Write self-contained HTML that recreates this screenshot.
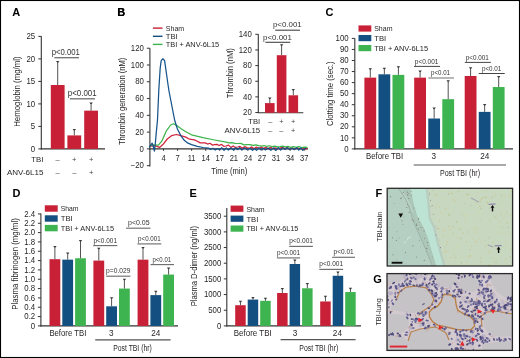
<!DOCTYPE html>
<html><head><meta charset="utf-8"><style>
html,body{margin:0;padding:0;background:#fff;}
svg{display:block;will-change:transform;}
text{font-family:"Liberation Sans",sans-serif;}
</style></head><body>
<svg width="520" height="358" viewBox="0 0 520 358">
<rect x="0" y="0" width="520" height="358" fill="#fff"/>
<text x="12.2" y="15.6" font-size="11" text-anchor="start" fill="#000" font-weight="bold">A</text>
<line x1="41.30" y1="36.20" x2="41.30" y2="149.40" stroke="#333" stroke-width="1.1"/>
<line x1="38.30" y1="36.40" x2="41.30" y2="36.40" stroke="#333" stroke-width="1"/>
<text x="35.2" y="39.05" font-size="8.4" text-anchor="end" fill="#231f20" textLength="8.69" lengthAdjust="spacingAndGlyphs">25</text>
<line x1="38.30" y1="58.90" x2="41.30" y2="58.90" stroke="#333" stroke-width="1"/>
<text x="35.2" y="61.55" font-size="8.4" text-anchor="end" fill="#231f20" textLength="8.69" lengthAdjust="spacingAndGlyphs">20</text>
<line x1="38.30" y1="81.40" x2="41.30" y2="81.40" stroke="#333" stroke-width="1"/>
<text x="35.2" y="84.05" font-size="8.4" text-anchor="end" fill="#231f20" textLength="8.69" lengthAdjust="spacingAndGlyphs">15</text>
<line x1="38.30" y1="103.90" x2="41.30" y2="103.90" stroke="#333" stroke-width="1"/>
<text x="35.2" y="106.55" font-size="8.4" text-anchor="end" fill="#231f20" textLength="8.69" lengthAdjust="spacingAndGlyphs">10</text>
<line x1="38.30" y1="126.40" x2="41.30" y2="126.40" stroke="#333" stroke-width="1"/>
<text x="35.2" y="129.05" font-size="8.4" text-anchor="end" fill="#231f20" textLength="4.34" lengthAdjust="spacingAndGlyphs">5</text>
<line x1="38.30" y1="148.90" x2="41.30" y2="148.90" stroke="#333" stroke-width="1"/>
<text x="35.2" y="151.55" font-size="8.4" text-anchor="end" fill="#231f20" textLength="4.34" lengthAdjust="spacingAndGlyphs">0</text>
<line x1="40.80" y1="148.90" x2="105.00" y2="148.90" stroke="#333" stroke-width="1.1"/>
<rect x="50.80" y="85.00" width="13.80" height="63.90" fill="#c82036"/>
<line x1="57.70" y1="61.60" x2="57.70" y2="85.00" stroke="#4a4a4a" stroke-width="0.95"/>
<path d="M56.00,61.00 L59.40,61.00 L58.30,62.50 L57.10,62.50 Z" fill="#3a3a3a"/>
<rect x="67.40" y="135.40" width="13.80" height="13.50" fill="#c82036"/>
<line x1="74.30" y1="129.55" x2="74.30" y2="135.40" stroke="#4a4a4a" stroke-width="0.95"/>
<path d="M72.60,128.95 L76.00,128.95 L74.90,130.45 L73.70,130.45 Z" fill="#3a3a3a"/>
<rect x="84.20" y="110.65" width="13.80" height="38.25" fill="#c82036"/>
<line x1="91.10" y1="103.00" x2="91.10" y2="110.65" stroke="#4a4a4a" stroke-width="0.95"/>
<path d="M89.40,102.40 L92.80,102.40 L91.70,103.90 L90.50,103.90 Z" fill="#3a3a3a"/>
<text x="20.0" y="91.6" font-size="8.7" text-anchor="middle" fill="#231f20" textLength="70.4" lengthAdjust="spacingAndGlyphs" transform="rotate(-90 20.0 91.6)">Hemoglobin (mg/ml)</text>
<line x1="54.40" y1="57.70" x2="79.00" y2="57.70" stroke="#6f6f6f" stroke-width="1.3"/>
<text x="65.8" y="55.1" font-size="8.2" text-anchor="middle" fill="#333" textLength="28.2" lengthAdjust="spacingAndGlyphs">p&lt;0.001</text>
<line x1="69.80" y1="98.80" x2="95.00" y2="98.80" stroke="#6f6f6f" stroke-width="1.3"/>
<text x="82.2" y="96.2" font-size="8.2" text-anchor="middle" fill="#333" textLength="28.8" lengthAdjust="spacingAndGlyphs">p&lt;0.001</text>
<text x="43.4" y="161.7" font-size="7.8" text-anchor="end" fill="#231f20">TBI</text>
<text x="43.4" y="175.2" font-size="7.8" text-anchor="end" fill="#231f20" textLength="36.5" lengthAdjust="spacingAndGlyphs">ANV-6L15</text>
<text x="57.7" y="161.7" font-size="7.6" text-anchor="middle" fill="#444">–</text>
<text x="74.3" y="161.7" font-size="7.6" text-anchor="middle" fill="#444">+</text>
<text x="91.2" y="161.7" font-size="7.6" text-anchor="middle" fill="#444">+</text>
<text x="57.7" y="175.2" font-size="7.6" text-anchor="middle" fill="#444">–</text>
<text x="74.3" y="175.2" font-size="7.6" text-anchor="middle" fill="#444">–</text>
<text x="91.2" y="175.2" font-size="7.6" text-anchor="middle" fill="#444">+</text>
<text x="117.3" y="15.6" font-size="11" text-anchor="start" fill="#000" font-weight="bold">B</text>
<line x1="149.90" y1="48.20" x2="149.90" y2="166.40" stroke="#333" stroke-width="1.1"/>
<line x1="146.90" y1="48.22" x2="149.90" y2="48.22" stroke="#333" stroke-width="1"/>
<text x="143.9" y="50.87" font-size="8.4" text-anchor="end" fill="#231f20" textLength="13.03" lengthAdjust="spacingAndGlyphs">120</text>
<line x1="146.90" y1="65.00" x2="149.90" y2="65.00" stroke="#333" stroke-width="1"/>
<text x="143.9" y="67.65" font-size="8.4" text-anchor="end" fill="#231f20" textLength="13.03" lengthAdjust="spacingAndGlyphs">100</text>
<line x1="146.90" y1="81.78" x2="149.90" y2="81.78" stroke="#333" stroke-width="1"/>
<text x="143.9" y="84.43" font-size="8.4" text-anchor="end" fill="#231f20" textLength="8.69" lengthAdjust="spacingAndGlyphs">80</text>
<line x1="146.90" y1="98.56" x2="149.90" y2="98.56" stroke="#333" stroke-width="1"/>
<text x="143.9" y="101.21" font-size="8.4" text-anchor="end" fill="#231f20" textLength="8.69" lengthAdjust="spacingAndGlyphs">60</text>
<line x1="146.90" y1="115.34" x2="149.90" y2="115.34" stroke="#333" stroke-width="1"/>
<text x="143.9" y="117.99" font-size="8.4" text-anchor="end" fill="#231f20" textLength="8.69" lengthAdjust="spacingAndGlyphs">40</text>
<line x1="146.90" y1="132.12" x2="149.90" y2="132.12" stroke="#333" stroke-width="1"/>
<text x="143.9" y="134.77" font-size="8.4" text-anchor="end" fill="#231f20" textLength="8.69" lengthAdjust="spacingAndGlyphs">20</text>
<line x1="146.90" y1="148.90" x2="149.90" y2="148.90" stroke="#333" stroke-width="1"/>
<text x="143.9" y="151.55" font-size="8.4" text-anchor="end" fill="#231f20" textLength="4.34" lengthAdjust="spacingAndGlyphs">0</text>
<line x1="146.90" y1="165.68" x2="149.90" y2="165.68" stroke="#333" stroke-width="1"/>
<text x="143.9" y="168.33" font-size="8.4" text-anchor="end" fill="#231f20" textLength="13.25" lengthAdjust="spacingAndGlyphs">−20</text>
<line x1="149.40" y1="148.90" x2="308.00" y2="148.90" stroke="#333" stroke-width="1.1"/>
<line x1="163.50" y1="148.90" x2="163.50" y2="150.80" stroke="#333" stroke-width="1"/>
<text x="163.5" y="160.7" font-size="8.4" text-anchor="middle" fill="#231f20" textLength="4.2" lengthAdjust="spacingAndGlyphs">4</text>
<line x1="177.57" y1="148.90" x2="177.57" y2="150.80" stroke="#333" stroke-width="1"/>
<text x="177.57" y="160.7" font-size="8.4" text-anchor="middle" fill="#231f20" textLength="4.2" lengthAdjust="spacingAndGlyphs">7</text>
<line x1="191.64" y1="148.90" x2="191.64" y2="150.80" stroke="#333" stroke-width="1"/>
<text x="191.64" y="160.7" font-size="8.4" text-anchor="middle" fill="#231f20" textLength="7.85" lengthAdjust="spacingAndGlyphs">11</text>
<line x1="205.71" y1="148.90" x2="205.71" y2="150.80" stroke="#333" stroke-width="1"/>
<text x="205.71" y="160.7" font-size="8.4" text-anchor="middle" fill="#231f20" textLength="8.41" lengthAdjust="spacingAndGlyphs">14</text>
<line x1="219.78" y1="148.90" x2="219.78" y2="150.80" stroke="#333" stroke-width="1"/>
<text x="219.78" y="160.7" font-size="8.4" text-anchor="middle" fill="#231f20" textLength="8.41" lengthAdjust="spacingAndGlyphs">17</text>
<line x1="233.85" y1="148.90" x2="233.85" y2="150.80" stroke="#333" stroke-width="1"/>
<text x="233.85" y="160.7" font-size="8.4" text-anchor="middle" fill="#231f20" textLength="8.41" lengthAdjust="spacingAndGlyphs">21</text>
<line x1="247.92" y1="148.90" x2="247.92" y2="150.80" stroke="#333" stroke-width="1"/>
<text x="247.92" y="160.7" font-size="8.4" text-anchor="middle" fill="#231f20" textLength="8.41" lengthAdjust="spacingAndGlyphs">24</text>
<line x1="261.99" y1="148.90" x2="261.99" y2="150.80" stroke="#333" stroke-width="1"/>
<text x="261.99" y="160.7" font-size="8.4" text-anchor="middle" fill="#231f20" textLength="8.41" lengthAdjust="spacingAndGlyphs">27</text>
<line x1="276.06" y1="148.90" x2="276.06" y2="150.80" stroke="#333" stroke-width="1"/>
<text x="276.06" y="160.7" font-size="8.4" text-anchor="middle" fill="#231f20" textLength="8.41" lengthAdjust="spacingAndGlyphs">31</text>
<line x1="290.13" y1="148.90" x2="290.13" y2="150.80" stroke="#333" stroke-width="1"/>
<text x="290.13" y="160.7" font-size="8.4" text-anchor="middle" fill="#231f20" textLength="8.41" lengthAdjust="spacingAndGlyphs">34</text>
<line x1="304.20" y1="148.90" x2="304.20" y2="150.80" stroke="#333" stroke-width="1"/>
<text x="304.2" y="160.7" font-size="8.4" text-anchor="middle" fill="#231f20" textLength="8.41" lengthAdjust="spacingAndGlyphs">37</text>
<text x="229.3" y="173.6" font-size="8.8" text-anchor="middle" fill="#231f20" textLength="36" lengthAdjust="spacingAndGlyphs">Time (min)</text>
<text x="124.6" y="101.4" font-size="8.7" text-anchor="middle" fill="#231f20" textLength="87.2" lengthAdjust="spacingAndGlyphs" transform="rotate(-90 124.6 101.4)">Thrombin generation (nM)</text>
<line x1="152.90" y1="28.10" x2="162.50" y2="28.10" stroke="#c82036" stroke-width="1.4"/>
<text x="165.8" y="30.6" font-size="7.6" text-anchor="start" fill="#231f20" textLength="18.4" lengthAdjust="spacingAndGlyphs">Sham</text>
<line x1="152.90" y1="36.30" x2="162.50" y2="36.30" stroke="#134f81" stroke-width="1.4"/>
<text x="165.8" y="38.8" font-size="7.6" text-anchor="start" fill="#231f20">TBI</text>
<line x1="152.90" y1="44.40" x2="162.50" y2="44.40" stroke="#3db44f" stroke-width="1.4"/>
<text x="165.8" y="46.9" font-size="7.6" text-anchor="start" fill="#231f20" textLength="53.4" lengthAdjust="spacingAndGlyphs">TBI + ANV-6L15</text>
<path d="M149.50,146.30 L155.00,145.70 L159.50,147.40 L162.90,144.60 L167.30,139.00 L171.80,135.60 L176.30,134.50 L180.00,135.40 L185.80,137.10 L188.65,138.82 L191.50,139.40 L194.40,139.91 L197.30,141.20 L200.15,142.84 L203.00,142.90 L205.32,142.89 L207.64,144.06 L209.96,143.28 L212.28,145.06 L214.60,144.60 L216.92,144.43 L219.24,145.52 L221.56,144.44 L223.88,146.29 L226.20,146.00 L228.50,145.13 L230.80,147.42 L233.10,145.98 L235.40,147.48 L237.70,147.00 L240.02,146.42 L242.35,148.13 L244.68,146.66 L247.00,147.60 L249.36,148.40 L251.71,146.88 L254.07,148.78 L256.43,147.05 L258.79,148.48 L261.14,146.97 L263.50,148.41 L265.86,147.38 L268.21,149.07 L270.57,147.30 L272.93,148.82 L275.29,147.78 L277.64,148.81 L280.00,148.20 L282.45,147.45 L284.91,148.60 L287.36,147.48 L289.82,149.13 L292.27,147.96 L294.73,149.18 L297.18,147.70 L299.64,149.27 L302.09,147.84 L304.55,149.35 L307.00,148.50" stroke="#d0223a" stroke-width="1.25" fill="none" stroke-linejoin="round" stroke-linecap="round"/>
<path d="M149.50,146.30 L152.80,144.80 L156.00,145.00 L158.40,145.10 L161.80,141.20 L166.20,131.20 L170.70,125.00 L173.50,123.70 L176.80,125.60 L180.80,128.40 L185.00,131.20 L191.50,134.80 L203.00,137.70 L214.60,140.00 L226.20,142.10 L229.07,142.94 L231.95,142.61 L234.82,143.36 L237.70,143.50 L240.80,143.40 L243.90,144.82 L247.00,144.60 L249.95,144.56 L252.90,145.47 L255.85,144.92 L258.80,145.60 L261.45,146.04 L264.10,145.52 L266.75,146.29 L269.40,145.76 L272.05,146.66 L274.70,146.04 L277.35,146.81 L280.00,146.60 L282.70,146.18 L285.40,146.95 L288.10,146.42 L290.80,147.41 L293.50,146.69 L296.20,147.35 L298.90,146.64 L301.60,147.52 L304.30,147.06 L307.00,147.40" stroke="#3cb44a" stroke-width="1.25" fill="none" stroke-linejoin="round" stroke-linecap="round"/>
<path d="M149.50,147.00 L150.80,145.00 L152.20,143.20 L153.30,146.50 L154.40,151.20 L155.20,145.00 L156.20,133.40 L157.50,120.00 L158.80,90.00 L160.20,68.00 L161.20,60.60 L162.90,58.80 L164.60,60.60 L166.50,74.00 L168.80,90.00 L171.50,104.00 L174.60,120.00 L177.40,129.00 L180.80,135.60 L184.50,140.60 L188.00,143.20 L191.50,144.60 L197.30,146.30 L203.00,147.50 L208.80,148.10 L210.50,149.56 L212.84,148.29 L215.25,149.99 L217.11,148.69 L219.75,149.59 L221.79,147.60 L224.06,150.22 L226.33,148.00 L228.28,150.00 L230.95,148.12 L233.49,150.04 L235.36,147.87 L237.75,149.63 L239.58,147.75 L241.85,150.09 L244.53,147.91 L247.25,149.73 L249.85,148.21 L252.59,150.27 L254.48,148.55 L256.50,150.36 L258.74,148.01 L260.84,149.86 L263.02,148.31 L265.41,149.94 L268.11,147.95 L270.84,150.24 L273.63,147.96 L275.60,150.25 L278.36,147.70 L280.73,150.09 L282.74,147.79 L285.12,149.61 L286.98,147.76 L289.77,149.40 L292.37,148.25 L294.32,149.62 L296.89,147.74 L298.73,149.98 L300.58,147.91 L302.71,150.27 L305.49,148.14" stroke="#15538a" stroke-width="1.25" fill="none" stroke-linejoin="round" stroke-linecap="round"/>
<text x="117.3" y="15.6" font-size="11" text-anchor="start" fill="#000" font-weight="bold">B</text>
<line x1="258.30" y1="34.20" x2="258.30" y2="112.90" stroke="#333" stroke-width="1.1"/>
<line x1="255.30" y1="34.30" x2="258.30" y2="34.30" stroke="#333" stroke-width="1"/>
<text x="251.8" y="36.95" font-size="8.4" text-anchor="end" fill="#231f20" textLength="13.03" lengthAdjust="spacingAndGlyphs">140</text>
<line x1="255.30" y1="49.95" x2="258.30" y2="49.95" stroke="#333" stroke-width="1"/>
<text x="251.8" y="52.6" font-size="8.4" text-anchor="end" fill="#231f20" textLength="13.03" lengthAdjust="spacingAndGlyphs">120</text>
<line x1="255.30" y1="65.60" x2="258.30" y2="65.60" stroke="#333" stroke-width="1"/>
<text x="251.8" y="68.25" font-size="8.4" text-anchor="end" fill="#231f20" textLength="8.69" lengthAdjust="spacingAndGlyphs">80</text>
<line x1="255.30" y1="81.25" x2="258.30" y2="81.25" stroke="#333" stroke-width="1"/>
<text x="251.8" y="83.9" font-size="8.4" text-anchor="end" fill="#231f20" textLength="8.69" lengthAdjust="spacingAndGlyphs">60</text>
<line x1="255.30" y1="96.90" x2="258.30" y2="96.90" stroke="#333" stroke-width="1"/>
<text x="251.8" y="99.55" font-size="8.4" text-anchor="end" fill="#231f20" textLength="8.69" lengthAdjust="spacingAndGlyphs">40</text>
<line x1="255.30" y1="112.55" x2="258.30" y2="112.55" stroke="#333" stroke-width="1"/>
<text x="251.8" y="115.2" font-size="8.4" text-anchor="end" fill="#231f20" textLength="8.69" lengthAdjust="spacingAndGlyphs">20</text>
<line x1="257.80" y1="112.80" x2="303.30" y2="112.80" stroke="#333" stroke-width="1.1"/>
<rect x="265.00" y="103.10" width="9.60" height="9.70" fill="#c82036"/>
<line x1="269.80" y1="98.20" x2="269.80" y2="103.10" stroke="#4a4a4a" stroke-width="0.95"/>
<path d="M268.10,97.60 L271.50,97.60 L270.40,99.10 L269.20,99.10 Z" fill="#3a3a3a"/>
<rect x="276.80" y="55.20" width="9.60" height="57.60" fill="#c82036"/>
<line x1="281.60" y1="44.90" x2="281.60" y2="55.20" stroke="#4a4a4a" stroke-width="0.95"/>
<path d="M279.90,44.30 L283.30,44.30 L282.20,45.80 L281.00,45.80 Z" fill="#3a3a3a"/>
<rect x="288.50" y="95.30" width="9.60" height="17.50" fill="#c82036"/>
<line x1="293.30" y1="89.70" x2="293.30" y2="95.30" stroke="#4a4a4a" stroke-width="0.95"/>
<path d="M291.60,89.10 L295.00,89.10 L293.90,90.60 L292.70,90.60 Z" fill="#3a3a3a"/>
<line x1="265.40" y1="42.30" x2="290.20" y2="42.30" stroke="#444" stroke-width="1.1"/>
<text x="277.5" y="39.8" font-size="8.0" text-anchor="middle" fill="#333" textLength="28.8" lengthAdjust="spacingAndGlyphs">p&lt;0.001</text>
<line x1="275.20" y1="30.20" x2="300.00" y2="30.20" stroke="#444" stroke-width="1.1"/>
<text x="287.3" y="27.3" font-size="8.0" text-anchor="middle" fill="#333" textLength="28.8" lengthAdjust="spacingAndGlyphs">p&lt;0.001</text>
<text x="233.0" y="73.2" font-size="8.2" text-anchor="middle" fill="#231f20" textLength="50" lengthAdjust="spacingAndGlyphs" transform="rotate(-90 233.0 73.2)">Thrombin (nM)</text>
<text x="260.2" y="124.1" font-size="7.6" text-anchor="end" fill="#231f20">TBI</text>
<text x="260.2" y="132.8" font-size="7.6" text-anchor="end" fill="#231f20" textLength="35.7" lengthAdjust="spacingAndGlyphs">ANV-6L15</text>
<text x="270.2" y="124.1" font-size="7.4" text-anchor="middle" fill="#444">–</text>
<text x="281.4" y="124.1" font-size="7.4" text-anchor="middle" fill="#444">+</text>
<text x="293.2" y="124.1" font-size="7.4" text-anchor="middle" fill="#444">+</text>
<text x="270.2" y="132.8" font-size="7.4" text-anchor="middle" fill="#444">–</text>
<text x="281.4" y="132.8" font-size="7.4" text-anchor="middle" fill="#444">–</text>
<text x="293.2" y="132.8" font-size="7.4" text-anchor="middle" fill="#444">+</text>
<text x="325.4" y="15.6" font-size="11" text-anchor="start" fill="#000" font-weight="bold">C</text>
<line x1="354.80" y1="38.20" x2="354.80" y2="149.40" stroke="#333" stroke-width="1.1"/>
<line x1="351.80" y1="38.40" x2="354.80" y2="38.40" stroke="#333" stroke-width="1"/>
<text x="348.6" y="41.05" font-size="8.4" text-anchor="end" fill="#231f20" textLength="13.03" lengthAdjust="spacingAndGlyphs">100</text>
<line x1="351.80" y1="49.45" x2="354.80" y2="49.45" stroke="#333" stroke-width="1"/>
<text x="348.6" y="52.1" font-size="8.4" text-anchor="end" fill="#231f20" textLength="8.69" lengthAdjust="spacingAndGlyphs">90</text>
<line x1="351.80" y1="60.50" x2="354.80" y2="60.50" stroke="#333" stroke-width="1"/>
<text x="348.6" y="63.15" font-size="8.4" text-anchor="end" fill="#231f20" textLength="8.69" lengthAdjust="spacingAndGlyphs">80</text>
<line x1="351.80" y1="71.55" x2="354.80" y2="71.55" stroke="#333" stroke-width="1"/>
<text x="348.6" y="74.2" font-size="8.4" text-anchor="end" fill="#231f20" textLength="8.69" lengthAdjust="spacingAndGlyphs">70</text>
<line x1="351.80" y1="82.60" x2="354.80" y2="82.60" stroke="#333" stroke-width="1"/>
<text x="348.6" y="85.25" font-size="8.4" text-anchor="end" fill="#231f20" textLength="8.69" lengthAdjust="spacingAndGlyphs">60</text>
<line x1="351.80" y1="93.65" x2="354.80" y2="93.65" stroke="#333" stroke-width="1"/>
<text x="348.6" y="96.3" font-size="8.4" text-anchor="end" fill="#231f20" textLength="8.69" lengthAdjust="spacingAndGlyphs">50</text>
<line x1="351.80" y1="104.70" x2="354.80" y2="104.70" stroke="#333" stroke-width="1"/>
<text x="348.6" y="107.35" font-size="8.4" text-anchor="end" fill="#231f20" textLength="8.69" lengthAdjust="spacingAndGlyphs">40</text>
<line x1="351.80" y1="115.75" x2="354.80" y2="115.75" stroke="#333" stroke-width="1"/>
<text x="348.6" y="118.4" font-size="8.4" text-anchor="end" fill="#231f20" textLength="8.69" lengthAdjust="spacingAndGlyphs">30</text>
<line x1="351.80" y1="126.80" x2="354.80" y2="126.80" stroke="#333" stroke-width="1"/>
<text x="348.6" y="129.45" font-size="8.4" text-anchor="end" fill="#231f20" textLength="8.69" lengthAdjust="spacingAndGlyphs">20</text>
<line x1="351.80" y1="137.85" x2="354.80" y2="137.85" stroke="#333" stroke-width="1"/>
<text x="348.6" y="140.5" font-size="8.4" text-anchor="end" fill="#231f20" textLength="8.69" lengthAdjust="spacingAndGlyphs">10</text>
<line x1="351.80" y1="148.90" x2="354.80" y2="148.90" stroke="#333" stroke-width="1"/>
<text x="348.6" y="151.55" font-size="8.4" text-anchor="end" fill="#231f20" textLength="4.34" lengthAdjust="spacingAndGlyphs">0</text>
<line x1="354.30" y1="148.90" x2="513.00" y2="148.90" stroke="#333" stroke-width="1.1"/>
<rect x="358.50" y="25.40" width="12.80" height="6.20" fill="#c82036"/>
<text x="374.2" y="31.2" font-size="7.7" text-anchor="start" fill="#231f20" textLength="18.3" lengthAdjust="spacingAndGlyphs">Sham</text>
<rect x="358.50" y="35.00" width="12.80" height="6.20" fill="#134f81"/>
<text x="374.2" y="40.8" font-size="7.7" text-anchor="start" fill="#231f20">TBI</text>
<rect x="358.50" y="45.00" width="12.80" height="6.20" fill="#3db44f"/>
<text x="374.2" y="50.8" font-size="7.7" text-anchor="start" fill="#231f20" textLength="53.9" lengthAdjust="spacingAndGlyphs">TBI + ANV-6L15</text>
<rect x="364.40" y="77.63" width="11.80" height="71.27" fill="#c82036"/>
<line x1="370.30" y1="68.79" x2="370.30" y2="77.63" stroke="#4a4a4a" stroke-width="0.95"/>
<path d="M368.60,68.19 L372.00,68.19 L370.90,69.69 L369.70,69.69 Z" fill="#3a3a3a"/>
<rect x="378.45" y="74.31" width="11.80" height="74.59" fill="#134f81"/>
<line x1="384.35" y1="68.24" x2="384.35" y2="74.31" stroke="#4a4a4a" stroke-width="0.95"/>
<path d="M382.65,67.64 L386.05,67.64 L384.95,69.14 L383.75,69.14 Z" fill="#3a3a3a"/>
<rect x="392.50" y="74.87" width="11.80" height="74.03" fill="#3db44f"/>
<line x1="398.40" y1="66.80" x2="398.40" y2="74.87" stroke="#4a4a4a" stroke-width="0.95"/>
<path d="M396.70,66.20 L400.10,66.20 L399.00,67.70 L397.80,67.70 Z" fill="#3a3a3a"/>
<rect x="414.20" y="77.63" width="11.80" height="71.27" fill="#c82036"/>
<line x1="420.10" y1="71.00" x2="420.10" y2="77.63" stroke="#4a4a4a" stroke-width="0.95"/>
<path d="M418.40,70.40 L421.80,70.40 L420.70,71.90 L419.50,71.90 Z" fill="#3a3a3a"/>
<rect x="428.25" y="118.51" width="11.80" height="30.39" fill="#134f81"/>
<line x1="434.15" y1="108.02" x2="434.15" y2="118.51" stroke="#4a4a4a" stroke-width="0.95"/>
<path d="M432.45,107.42 L435.85,107.42 L434.75,108.92 L433.55,108.92 Z" fill="#3a3a3a"/>
<rect x="442.30" y="99.18" width="11.80" height="49.72" fill="#3db44f"/>
<line x1="448.20" y1="80.94" x2="448.20" y2="99.18" stroke="#4a4a4a" stroke-width="0.95"/>
<path d="M446.50,80.34 L449.90,80.34 L448.80,81.84 L447.60,81.84 Z" fill="#3a3a3a"/>
<rect x="464.70" y="75.97" width="11.80" height="72.93" fill="#c82036"/>
<line x1="470.60" y1="67.90" x2="470.60" y2="75.97" stroke="#4a4a4a" stroke-width="0.95"/>
<path d="M468.90,67.30 L472.30,67.30 L471.20,68.80 L470.00,68.80 Z" fill="#3a3a3a"/>
<rect x="478.75" y="111.88" width="11.80" height="37.02" fill="#134f81"/>
<line x1="484.65" y1="104.70" x2="484.65" y2="111.88" stroke="#4a4a4a" stroke-width="0.95"/>
<path d="M482.95,104.10 L486.35,104.10 L485.25,105.60 L484.05,105.60 Z" fill="#3a3a3a"/>
<rect x="492.80" y="87.02" width="11.80" height="61.88" fill="#3db44f"/>
<line x1="498.70" y1="76.52" x2="498.70" y2="87.02" stroke="#4a4a4a" stroke-width="0.95"/>
<path d="M497.00,75.92 L500.40,75.92 L499.30,77.42 L498.10,77.42 Z" fill="#3a3a3a"/>
<text x="384.6" y="159.3" font-size="8.2" text-anchor="middle" fill="#231f20" textLength="37.2" lengthAdjust="spacingAndGlyphs">Before TBI</text>
<text x="433.8" y="159.3" font-size="8.2" text-anchor="middle" fill="#231f20">3</text>
<text x="484.7" y="159.3" font-size="8.2" text-anchor="middle" fill="#231f20">24</text>
<line x1="413.70" y1="165.00" x2="506.00" y2="165.00" stroke="#555" stroke-width="1.2"/>
<text x="460" y="176.2" font-size="8.5" text-anchor="middle" fill="#231f20" textLength="40.2" lengthAdjust="spacingAndGlyphs">Post TBI (hr)</text>
<text x="332.6" y="93.7" font-size="8.7" text-anchor="middle" fill="#231f20" textLength="64.6" lengthAdjust="spacingAndGlyphs" transform="rotate(-90 332.6 93.7)">Clotting time (sec.)</text>
<line x1="414.00" y1="66.40" x2="440.00" y2="66.40" stroke="#444" stroke-width="1.0"/>
<text x="426.6" y="63.7" font-size="6.8" text-anchor="middle" fill="#333" textLength="23.6" lengthAdjust="spacingAndGlyphs">p&lt;0.001</text>
<line x1="428.30" y1="78.00" x2="454.00" y2="78.00" stroke="#888" stroke-width="1.2"/>
<text x="440.5" y="75.4" font-size="6.8" text-anchor="middle" fill="#333" textLength="18.9" lengthAdjust="spacingAndGlyphs">p&lt;0.01</text>
<line x1="464.80" y1="62.40" x2="490.80" y2="62.40" stroke="#444" stroke-width="1.0"/>
<text x="477.3" y="59.7" font-size="6.8" text-anchor="middle" fill="#333" textLength="23" lengthAdjust="spacingAndGlyphs">p&lt;0.001</text>
<line x1="478.80" y1="73.50" x2="504.70" y2="73.50" stroke="#444" stroke-width="1.0"/>
<text x="491.6" y="71.1" font-size="6.8" text-anchor="middle" fill="#333" textLength="19.4" lengthAdjust="spacingAndGlyphs">p&lt;0.01</text>
<text x="12.4" y="196.5" font-size="11" text-anchor="start" fill="#000" font-weight="bold">D</text>
<line x1="40.90" y1="213.40" x2="40.90" y2="326.40" stroke="#333" stroke-width="1.1"/>
<line x1="37.90" y1="213.94" x2="40.90" y2="213.94" stroke="#333" stroke-width="1"/>
<text x="35.2" y="216.59" font-size="8.4" text-anchor="end" fill="#231f20" textLength="10.86" lengthAdjust="spacingAndGlyphs">2.4</text>
<line x1="37.90" y1="223.27" x2="40.90" y2="223.27" stroke="#333" stroke-width="1"/>
<text x="35.2" y="225.92" font-size="8.4" text-anchor="end" fill="#231f20" textLength="10.86" lengthAdjust="spacingAndGlyphs">2.2</text>
<line x1="37.90" y1="232.60" x2="40.90" y2="232.60" stroke="#333" stroke-width="1"/>
<text x="35.2" y="235.25" font-size="8.4" text-anchor="end" fill="#231f20" textLength="10.86" lengthAdjust="spacingAndGlyphs">2.0</text>
<line x1="37.90" y1="241.93" x2="40.90" y2="241.93" stroke="#333" stroke-width="1"/>
<text x="35.2" y="244.58" font-size="8.4" text-anchor="end" fill="#231f20" textLength="10.86" lengthAdjust="spacingAndGlyphs">1.8</text>
<line x1="37.90" y1="251.26" x2="40.90" y2="251.26" stroke="#333" stroke-width="1"/>
<text x="35.2" y="253.91" font-size="8.4" text-anchor="end" fill="#231f20" textLength="10.86" lengthAdjust="spacingAndGlyphs">1.6</text>
<line x1="37.90" y1="260.59" x2="40.90" y2="260.59" stroke="#333" stroke-width="1"/>
<text x="35.2" y="263.24" font-size="8.4" text-anchor="end" fill="#231f20" textLength="10.86" lengthAdjust="spacingAndGlyphs">1.4</text>
<line x1="37.90" y1="269.92" x2="40.90" y2="269.92" stroke="#333" stroke-width="1"/>
<text x="35.2" y="272.57" font-size="8.4" text-anchor="end" fill="#231f20" textLength="10.86" lengthAdjust="spacingAndGlyphs">1.2</text>
<line x1="37.90" y1="279.25" x2="40.90" y2="279.25" stroke="#333" stroke-width="1"/>
<text x="35.2" y="281.9" font-size="8.4" text-anchor="end" fill="#231f20" textLength="10.86" lengthAdjust="spacingAndGlyphs">1.0</text>
<line x1="37.90" y1="288.58" x2="40.90" y2="288.58" stroke="#333" stroke-width="1"/>
<text x="35.2" y="291.23" font-size="8.4" text-anchor="end" fill="#231f20" textLength="10.86" lengthAdjust="spacingAndGlyphs">0.8</text>
<line x1="37.90" y1="297.91" x2="40.90" y2="297.91" stroke="#333" stroke-width="1"/>
<text x="35.2" y="300.56" font-size="8.4" text-anchor="end" fill="#231f20" textLength="10.86" lengthAdjust="spacingAndGlyphs">0.6</text>
<line x1="37.90" y1="307.24" x2="40.90" y2="307.24" stroke="#333" stroke-width="1"/>
<text x="35.2" y="309.89" font-size="8.4" text-anchor="end" fill="#231f20" textLength="10.86" lengthAdjust="spacingAndGlyphs">0.4</text>
<line x1="37.90" y1="316.57" x2="40.90" y2="316.57" stroke="#333" stroke-width="1"/>
<text x="35.2" y="319.22" font-size="8.4" text-anchor="end" fill="#231f20" textLength="10.86" lengthAdjust="spacingAndGlyphs">0.2</text>
<line x1="37.90" y1="325.90" x2="40.90" y2="325.90" stroke="#333" stroke-width="1"/>
<text x="35.2" y="328.55" font-size="8.4" text-anchor="end" fill="#231f20" textLength="4.34" lengthAdjust="spacingAndGlyphs">0</text>
<line x1="40.40" y1="325.90" x2="178.00" y2="325.90" stroke="#333" stroke-width="1.1"/>
<rect x="44.80" y="205.30" width="12.90" height="6.40" fill="#c82036"/>
<text x="60.8" y="211.2" font-size="7.7" text-anchor="start" fill="#231f20" textLength="17.7" lengthAdjust="spacingAndGlyphs">Sham</text>
<rect x="44.80" y="215.30" width="12.90" height="6.40" fill="#134f81"/>
<text x="60.8" y="221.2" font-size="7.7" text-anchor="start" fill="#231f20">TBI</text>
<rect x="44.80" y="224.90" width="12.90" height="6.40" fill="#3db44f"/>
<text x="60.8" y="230.8" font-size="7.7" text-anchor="start" fill="#231f20" textLength="53.2" lengthAdjust="spacingAndGlyphs">TBI + ANV-6L15</text>
<rect x="49.50" y="259.19" width="10.80" height="66.71" fill="#c82036"/>
<line x1="54.90" y1="246.59" x2="54.90" y2="259.19" stroke="#4a4a4a" stroke-width="0.95"/>
<path d="M53.20,245.99 L56.60,245.99 L55.50,247.49 L54.30,247.49 Z" fill="#3a3a3a"/>
<rect x="62.30" y="259.66" width="10.80" height="66.24" fill="#134f81"/>
<line x1="67.70" y1="253.13" x2="67.70" y2="259.66" stroke="#4a4a4a" stroke-width="0.95"/>
<path d="M66.00,252.53 L69.40,252.53 L68.30,254.03 L67.10,254.03 Z" fill="#3a3a3a"/>
<rect x="75.10" y="258.26" width="10.80" height="67.64" fill="#3db44f"/>
<line x1="80.50" y1="240.53" x2="80.50" y2="258.26" stroke="#4a4a4a" stroke-width="0.95"/>
<path d="M78.80,239.93 L82.20,239.93 L81.10,241.43 L79.90,241.43 Z" fill="#3a3a3a"/>
<rect x="93.40" y="260.59" width="10.80" height="65.31" fill="#c82036"/>
<line x1="98.80" y1="248.46" x2="98.80" y2="260.59" stroke="#4a4a4a" stroke-width="0.95"/>
<path d="M97.10,247.86 L100.50,247.86 L99.40,249.36 L98.20,249.36 Z" fill="#3a3a3a"/>
<rect x="106.20" y="306.31" width="10.80" height="19.59" fill="#134f81"/>
<line x1="111.60" y1="297.91" x2="111.60" y2="306.31" stroke="#4a4a4a" stroke-width="0.95"/>
<path d="M109.90,297.31 L113.30,297.31 L112.20,298.81 L111.00,298.81 Z" fill="#3a3a3a"/>
<rect x="119.00" y="288.58" width="10.80" height="37.32" fill="#3db44f"/>
<line x1="124.40" y1="279.25" x2="124.40" y2="288.58" stroke="#4a4a4a" stroke-width="0.95"/>
<path d="M122.70,278.65 L126.10,278.65 L125.00,280.15 L123.80,280.15 Z" fill="#3a3a3a"/>
<rect x="137.60" y="259.66" width="10.80" height="66.24" fill="#c82036"/>
<line x1="143.00" y1="247.53" x2="143.00" y2="259.66" stroke="#4a4a4a" stroke-width="0.95"/>
<path d="M141.30,246.93 L144.70,246.93 L143.60,248.43 L142.40,248.43 Z" fill="#3a3a3a"/>
<rect x="150.40" y="295.11" width="10.80" height="30.79" fill="#134f81"/>
<line x1="155.80" y1="291.38" x2="155.80" y2="295.11" stroke="#4a4a4a" stroke-width="0.95"/>
<path d="M154.10,290.78 L157.50,290.78 L156.40,292.28 L155.20,292.28 Z" fill="#3a3a3a"/>
<rect x="163.20" y="274.58" width="10.80" height="51.31" fill="#3db44f"/>
<line x1="168.60" y1="268.05" x2="168.60" y2="274.58" stroke="#4a4a4a" stroke-width="0.95"/>
<path d="M166.90,267.45 L170.30,267.45 L169.20,268.95 L168.00,268.95 Z" fill="#3a3a3a"/>
<text x="67.85" y="336.2" font-size="8.2" text-anchor="middle" fill="#231f20" textLength="36.9" lengthAdjust="spacingAndGlyphs">Before TBI</text>
<text x="111.4" y="336.2" font-size="8.2" text-anchor="middle" fill="#231f20">3</text>
<text x="155.7" y="336.2" font-size="8.2" text-anchor="middle" fill="#231f20">24</text>
<line x1="95.20" y1="339.90" x2="170.60" y2="339.90" stroke="#555" stroke-width="1.2"/>
<text x="132.5" y="351.2" font-size="8.5" text-anchor="middle" fill="#231f20" textLength="38.5" lengthAdjust="spacingAndGlyphs">Post TBI (hr)</text>
<text x="17.6" y="264" font-size="8.7" text-anchor="middle" fill="#231f20" textLength="91.5" lengthAdjust="spacingAndGlyphs" transform="rotate(-90 17.6 264)">Plasma fibrinogen (mg/ml)</text>
<line x1="126.10" y1="228.20" x2="150.50" y2="228.20" stroke="#6f6f6f" stroke-width="1.15"/>
<text x="138.8" y="225.2" font-size="6.6" text-anchor="middle" fill="#333" textLength="21.6" lengthAdjust="spacingAndGlyphs">p&lt;0.05</text>
<line x1="93.20" y1="245.60" x2="117.30" y2="245.60" stroke="#6f6f6f" stroke-width="1.15"/>
<text x="105.25" y="242.6" font-size="6.6" text-anchor="middle" fill="#333" textLength="23.5" lengthAdjust="spacingAndGlyphs">p&lt;0.001</text>
<line x1="106.10" y1="276.20" x2="130.40" y2="276.20" stroke="#6f6f6f" stroke-width="1.15"/>
<text x="118.25" y="273.2" font-size="6.6" text-anchor="middle" fill="#333" textLength="24.3" lengthAdjust="spacingAndGlyphs">p=0.029</text>
<line x1="137.40" y1="243.90" x2="161.30" y2="243.90" stroke="#6f6f6f" stroke-width="1.15"/>
<text x="149.35" y="240.9" font-size="6.6" text-anchor="middle" fill="#333" textLength="22.5" lengthAdjust="spacingAndGlyphs">p&lt;0.001</text>
<line x1="150.50" y1="264.60" x2="174.00" y2="264.60" stroke="#6f6f6f" stroke-width="1.15"/>
<text x="161.8" y="261.6" font-size="6.6" text-anchor="middle" fill="#333" textLength="18.6" lengthAdjust="spacingAndGlyphs">p&lt;0.01</text>
<text x="189.4" y="196.5" font-size="11" text-anchor="start" fill="#000" font-weight="bold">E</text>
<line x1="226.80" y1="208.00" x2="226.80" y2="326.40" stroke="#333" stroke-width="1.1"/>
<line x1="223.80" y1="216.21" x2="226.80" y2="216.21" stroke="#333" stroke-width="1"/>
<text x="221.3" y="218.86" font-size="8.4" text-anchor="end" fill="#231f20" textLength="17.38" lengthAdjust="spacingAndGlyphs">3500</text>
<line x1="223.80" y1="231.88" x2="226.80" y2="231.88" stroke="#333" stroke-width="1"/>
<text x="221.3" y="234.53" font-size="8.4" text-anchor="end" fill="#231f20" textLength="17.38" lengthAdjust="spacingAndGlyphs">3000</text>
<line x1="223.80" y1="247.55" x2="226.80" y2="247.55" stroke="#333" stroke-width="1"/>
<text x="221.3" y="250.2" font-size="8.4" text-anchor="end" fill="#231f20" textLength="17.38" lengthAdjust="spacingAndGlyphs">2500</text>
<line x1="223.80" y1="263.22" x2="226.80" y2="263.22" stroke="#333" stroke-width="1"/>
<text x="221.3" y="265.87" font-size="8.4" text-anchor="end" fill="#231f20" textLength="17.38" lengthAdjust="spacingAndGlyphs">2000</text>
<line x1="223.80" y1="278.89" x2="226.80" y2="278.89" stroke="#333" stroke-width="1"/>
<text x="221.3" y="281.54" font-size="8.4" text-anchor="end" fill="#231f20" textLength="17.38" lengthAdjust="spacingAndGlyphs">1500</text>
<line x1="223.80" y1="294.56" x2="226.80" y2="294.56" stroke="#333" stroke-width="1"/>
<text x="221.3" y="297.21" font-size="8.4" text-anchor="end" fill="#231f20" textLength="17.38" lengthAdjust="spacingAndGlyphs">1000</text>
<line x1="223.80" y1="310.23" x2="226.80" y2="310.23" stroke="#333" stroke-width="1"/>
<text x="221.3" y="312.88" font-size="8.4" text-anchor="end" fill="#231f20" textLength="13.03" lengthAdjust="spacingAndGlyphs">500</text>
<line x1="223.80" y1="325.90" x2="226.80" y2="325.90" stroke="#333" stroke-width="1"/>
<text x="221.3" y="328.55" font-size="8.4" text-anchor="end" fill="#231f20" textLength="4.34" lengthAdjust="spacingAndGlyphs">0</text>
<line x1="226.30" y1="325.90" x2="361.00" y2="325.90" stroke="#333" stroke-width="1.1"/>
<rect x="230.60" y="205.60" width="12.80" height="6.20" fill="#c82036"/>
<text x="246.4" y="211.5" font-size="7.7" text-anchor="start" fill="#231f20" textLength="18.2" lengthAdjust="spacingAndGlyphs">Sham</text>
<rect x="230.60" y="215.60" width="12.80" height="6.20" fill="#134f81"/>
<text x="246.4" y="221.5" font-size="7.7" text-anchor="start" fill="#231f20">TBI</text>
<rect x="230.60" y="225.50" width="12.80" height="6.20" fill="#3db44f"/>
<text x="246.4" y="231.4" font-size="7.7" text-anchor="start" fill="#231f20" textLength="52" lengthAdjust="spacingAndGlyphs">TBI + ANV-6L15</text>
<rect x="235.20" y="305.22" width="10.50" height="20.68" fill="#c82036"/>
<line x1="240.45" y1="301.45" x2="240.45" y2="305.22" stroke="#4a4a4a" stroke-width="0.95"/>
<path d="M238.75,300.85 L242.15,300.85 L241.05,302.35 L239.85,302.35 Z" fill="#3a3a3a"/>
<rect x="247.70" y="299.57" width="10.50" height="26.33" fill="#134f81"/>
<line x1="252.95" y1="297.69" x2="252.95" y2="299.57" stroke="#4a4a4a" stroke-width="0.95"/>
<path d="M251.25,297.09 L254.65,297.09 L253.55,298.59 L252.35,298.59 Z" fill="#3a3a3a"/>
<rect x="260.20" y="300.83" width="10.50" height="25.07" fill="#3db44f"/>
<line x1="265.45" y1="298.32" x2="265.45" y2="300.83" stroke="#4a4a4a" stroke-width="0.95"/>
<path d="M263.75,297.72 L267.15,297.72 L266.05,299.22 L264.85,299.22 Z" fill="#3a3a3a"/>
<rect x="277.10" y="292.99" width="10.50" height="32.91" fill="#c82036"/>
<line x1="282.35" y1="288.61" x2="282.35" y2="292.99" stroke="#4a4a4a" stroke-width="0.95"/>
<path d="M280.65,288.01 L284.05,288.01 L282.95,289.51 L281.75,289.51 Z" fill="#3a3a3a"/>
<rect x="289.60" y="264.00" width="10.50" height="61.90" fill="#134f81"/>
<line x1="294.85" y1="260.09" x2="294.85" y2="264.00" stroke="#4a4a4a" stroke-width="0.95"/>
<path d="M293.15,259.49 L296.55,259.49 L295.45,260.99 L294.25,260.99 Z" fill="#3a3a3a"/>
<rect x="302.10" y="288.29" width="10.50" height="37.61" fill="#3db44f"/>
<line x1="307.35" y1="283.59" x2="307.35" y2="288.29" stroke="#4a4a4a" stroke-width="0.95"/>
<path d="M305.65,282.99 L309.05,282.99 L307.95,284.49 L306.75,284.49 Z" fill="#3a3a3a"/>
<rect x="320.20" y="301.45" width="10.50" height="24.45" fill="#c82036"/>
<line x1="325.45" y1="296.44" x2="325.45" y2="301.45" stroke="#4a4a4a" stroke-width="0.95"/>
<path d="M323.75,295.84 L327.15,295.84 L326.05,297.34 L324.85,297.34 Z" fill="#3a3a3a"/>
<rect x="332.70" y="275.76" width="10.50" height="50.14" fill="#134f81"/>
<line x1="337.95" y1="272.00" x2="337.95" y2="275.76" stroke="#4a4a4a" stroke-width="0.95"/>
<path d="M336.25,271.40 L339.65,271.40 L338.55,272.90 L337.35,272.90 Z" fill="#3a3a3a"/>
<rect x="345.20" y="292.05" width="10.50" height="33.85" fill="#3db44f"/>
<line x1="350.45" y1="288.29" x2="350.45" y2="292.05" stroke="#4a4a4a" stroke-width="0.95"/>
<path d="M348.75,287.69 L352.15,287.69 L351.05,289.19 L349.85,289.19 Z" fill="#3a3a3a"/>
<text x="252.8" y="336.0" font-size="8.2" text-anchor="middle" fill="#231f20" textLength="38" lengthAdjust="spacingAndGlyphs">Before TBI</text>
<text x="295.0" y="336.0" font-size="8.2" text-anchor="middle" fill="#231f20">3</text>
<text x="337.4" y="336.0" font-size="8.2" text-anchor="middle" fill="#231f20">24</text>
<line x1="280.60" y1="339.60" x2="355.60" y2="339.60" stroke="#555" stroke-width="1.2"/>
<text x="318.8" y="351.2" font-size="8.5" text-anchor="middle" fill="#231f20" textLength="39" lengthAdjust="spacingAndGlyphs">Post TBI (hr)</text>
<text x="197.0" y="266.2" font-size="8.7" text-anchor="middle" fill="#231f20" textLength="80.3" lengthAdjust="spacingAndGlyphs" transform="rotate(-90 197.0 266.2)">Plasma D-dimer (ng/ml)</text>
<line x1="276.90" y1="257.90" x2="300.10" y2="257.90" stroke="#6f6f6f" stroke-width="1.15"/>
<text x="288.5" y="254.9" font-size="6.6" text-anchor="middle" fill="#333" textLength="23.2" lengthAdjust="spacingAndGlyphs">p&lt;0.001</text>
<line x1="289.20" y1="246.40" x2="312.90" y2="246.40" stroke="#6f6f6f" stroke-width="1.15"/>
<text x="301.05" y="243.4" font-size="6.6" text-anchor="middle" fill="#333" textLength="23.7" lengthAdjust="spacingAndGlyphs">p&lt;0.001</text>
<line x1="319.30" y1="269.40" x2="343.10" y2="269.40" stroke="#6f6f6f" stroke-width="1.15"/>
<text x="331.2" y="266.4" font-size="6.6" text-anchor="middle" fill="#333" textLength="23.8" lengthAdjust="spacingAndGlyphs">p&lt;0.001</text>
<line x1="332.10" y1="257.30" x2="355.00" y2="257.30" stroke="#6f6f6f" stroke-width="1.15"/>
<text x="343.6" y="254.3" font-size="6.6" text-anchor="middle" fill="#333" textLength="20.1" lengthAdjust="spacingAndGlyphs">p&lt;0.01</text>
<text x="375.4" y="196.5" font-size="11" font-weight="bold" fill="#000">F</text>
<text x="382.2" y="226.7" font-size="7.4" text-anchor="middle" fill="#231f20" transform="rotate(-90 382.2 226.7)" textLength="30.3" lengthAdjust="spacingAndGlyphs">TBI-brain</text>
<clipPath id="cf"><rect x="387.2" y="188.3" width="125.40" height="77.70"/></clipPath>
<filter id="bf" x="0" y="0" width="1" height="1"><feGaussianBlur stdDeviation="0.45"/></filter>
<g clip-path="url(#cf)"><g filter="url(#bf)">
<rect x="387.2" y="188.3" width="125.40" height="77.70" fill="#b5cfc2"/>
<path d="M398.2,188 C403,194 407.5,202 409.2,208.1 C410.5,212 412,216 412.1,217.7 C414,223 416.5,229 419.4,235 C423,243 427,252 432.5,266.5 L436.5,266.5 C433,255 430,245 428,238 C426,233 424.5,230 424,228 C421,222 418.5,219 417,215 C414,206 412,196 410.5,188 Z" fill="#acc6b8"/>
<path d="M425.6,188 C427,200 428,210 428.5,217.7 C430,222 431.5,224 432.4,226 C433.5,229 434.2,232 434.8,235 C437,245 440,255 443.5,266.5 L513,266.5 L513,188 Z" fill="#c8d7c0"/>
<path d="M425.6,188 C427,200 428,210 428.5,217.7 C430,222 431.5,224 432.4,226 C433.5,229 434.2,232 434.8,235 C437,245 440,255 443.5,266.5" stroke="#b8cdbf" stroke-width="4.5" fill="none"/>
<path d="M410.5,188 C412,196 414,206 417,215 C418.5,219 421,222 424,228 C424.5,230 426,233 428,238 C430,245 433,255 436.5,266.5 L443.5,266.5 C440,255 437,245 434.8,235 C434.2,232 433.5,229 432.4,226 C431.5,224 430,222 428.5,217.7 C428,210 427,200 425.6,188 Z" fill="#bce3d3"/>
<path d="M398.2,188 C403,194 407.5,202 409.2,208.1 C410.5,212 412,216 412.1,217.7 C414,223 416.5,229 419.4,235 C423,243 427,252 432.5,266.5" stroke="#93aa9d" stroke-width="0.7" fill="none"/>
<path d="M400.6,188.5 C404,194 408,201 410.5,206 C412,209 412.6,211 413,212.5" stroke="#c3dccf" stroke-width="0.8" fill="none"/>
<path d="M411,236.5 C408,238 405.5,240 404.2,243.5" stroke="#d8ebe2" stroke-width="0.9" fill="none"/>
<circle cx="468.8" cy="193.9" r="0.68" fill="#c4c68f"/>
<circle cx="439.6" cy="207.0" r="0.78" fill="#cfcb98"/>
<circle cx="506.0" cy="233.1" r="0.47" fill="#cac996"/>
<circle cx="402.0" cy="212.3" r="0.38" fill="#8a8a80"/>
<circle cx="476.5" cy="232.2" r="0.72" fill="#d4cd92"/>
<circle cx="440.8" cy="212.7" r="0.59" fill="#d4cd92"/>
<circle cx="449.3" cy="215.0" r="0.84" fill="#b9c59a"/>
<circle cx="402.0" cy="220.8" r="0.63" fill="#8a8a80"/>
<circle cx="396.9" cy="231.7" r="0.45" fill="#7d857a"/>
<circle cx="478.9" cy="212.4" r="0.56" fill="#d4cd92"/>
<circle cx="401.9" cy="192.9" r="0.38" fill="#7a7672"/>
<circle cx="418.3" cy="218.7" r="0.37" fill="#7a7672"/>
<circle cx="443.5" cy="231.0" r="0.80" fill="#d4cd92"/>
<circle cx="432.2" cy="257.0" r="0.39" fill="#857f78"/>
<circle cx="409.3" cy="206.3" r="0.35" fill="#857f78"/>
<circle cx="494.9" cy="262.1" r="0.63" fill="#cfcb98"/>
<circle cx="496.4" cy="262.3" r="0.61" fill="#b9c59a"/>
<circle cx="437.2" cy="196.3" r="0.53" fill="#cfcb98"/>
<circle cx="462.5" cy="196.3" r="0.49" fill="#b9c59a"/>
<circle cx="432.8" cy="190.3" r="0.60" fill="#b9c59a"/>
<circle cx="466.8" cy="262.5" r="0.50" fill="#d4cd92"/>
<circle cx="493.7" cy="265.5" r="0.57" fill="#d4cd92"/>
<circle cx="447.2" cy="242.1" r="0.83" fill="#cac996"/>
<circle cx="453.4" cy="199.7" r="0.75" fill="#cfcb98"/>
<circle cx="424.6" cy="238.3" r="0.52" fill="#857f78"/>
<circle cx="489.0" cy="264.8" r="0.78" fill="#cac996"/>
<circle cx="480.0" cy="205.9" r="0.74" fill="#c4c68f"/>
<circle cx="511.3" cy="249.7" r="0.73" fill="#cac996"/>
<circle cx="507.1" cy="223.0" r="0.83" fill="#c4c68f"/>
<circle cx="432.9" cy="205.4" r="0.47" fill="#8e8a96"/>
<circle cx="501.2" cy="215.0" r="0.81" fill="#cfcb98"/>
<circle cx="485.3" cy="246.6" r="0.62" fill="#cac996"/>
<circle cx="466.9" cy="195.0" r="0.64" fill="#d4cd92"/>
<circle cx="511.7" cy="190.4" r="0.77" fill="#d4cd92"/>
<circle cx="405.5" cy="252.5" r="0.63" fill="#978f80"/>
<circle cx="481.2" cy="199.1" r="0.78" fill="#cac996"/>
<circle cx="413.7" cy="207.9" r="0.48" fill="#7a7672"/>
<circle cx="483.0" cy="213.6" r="0.47" fill="#cac996"/>
<circle cx="480.0" cy="258.1" r="0.62" fill="#b9c59a"/>
<circle cx="502.3" cy="227.3" r="0.65" fill="#b9c59a"/>
<circle cx="496.6" cy="248.6" r="0.52" fill="#cac996"/>
<circle cx="446.6" cy="244.6" r="0.72" fill="#c4c68f"/>
<circle cx="453.8" cy="225.8" r="0.47" fill="#b9c59a"/>
<circle cx="411.2" cy="191.6" r="0.48" fill="#857f78"/>
<circle cx="457.6" cy="247.4" r="0.58" fill="#d4cd92"/>
<circle cx="422.0" cy="227.8" r="0.48" fill="#7a7672"/>
<circle cx="418.3" cy="229.0" r="0.58" fill="#7a7672"/>
<circle cx="499.2" cy="204.0" r="0.50" fill="#d4cd92"/>
<circle cx="396.4" cy="240.3" r="0.63" fill="#8a8a80"/>
<circle cx="470.9" cy="205.7" r="0.61" fill="#b9c59a"/>
<circle cx="433.1" cy="214.6" r="0.46" fill="#857f90"/>
<circle cx="451.4" cy="193.3" r="0.84" fill="#cac996"/>
<circle cx="502.5" cy="232.6" r="0.56" fill="#cfcb98"/>
<circle cx="487.5" cy="202.5" r="0.83" fill="#c4c68f"/>
<circle cx="494.6" cy="193.5" r="0.45" fill="#d4cd92"/>
<circle cx="511.9" cy="220.8" r="0.50" fill="#b9c59a"/>
<circle cx="407.4" cy="192.2" r="0.58" fill="#857f78"/>
<circle cx="389.5" cy="227.6" r="0.49" fill="#978f80"/>
<circle cx="504.4" cy="196.6" r="0.71" fill="#d4cd92"/>
<circle cx="455.7" cy="257.4" r="0.73" fill="#c4c68f"/>
<circle cx="510.4" cy="214.9" r="0.61" fill="#cac996"/>
<circle cx="407.7" cy="194.9" r="0.57" fill="#7a7672"/>
<circle cx="507.8" cy="263.9" r="0.46" fill="#cac996"/>
<circle cx="429.3" cy="194.8" r="0.48" fill="#857f90"/>
<circle cx="460.6" cy="229.4" r="0.61" fill="#b9c59a"/>
<circle cx="491.9" cy="257.6" r="0.51" fill="#b9c59a"/>
<circle cx="452.9" cy="227.5" r="0.78" fill="#cfcb98"/>
<circle cx="460.4" cy="257.7" r="0.48" fill="#cac996"/>
<circle cx="392.4" cy="237.8" r="0.60" fill="#7d857a"/>
<circle cx="457.2" cy="237.1" r="0.65" fill="#cac996"/>
<circle cx="450.3" cy="229.9" r="0.75" fill="#cfcb98"/>
<circle cx="446.6" cy="251.2" r="0.74" fill="#cac996"/>
<circle cx="412.9" cy="245.8" r="0.60" fill="#7d857a"/>
<circle cx="462.4" cy="214.1" r="0.70" fill="#c4c68f"/>
<circle cx="445.6" cy="247.9" r="0.53" fill="#b9c59a"/>
<circle cx="444.8" cy="252.0" r="0.85" fill="#d4cd92"/>
<circle cx="480.9" cy="208.6" r="0.78" fill="#b9c59a"/>
<circle cx="451.0" cy="257.2" r="0.65" fill="#cac996"/>
<circle cx="506.3" cy="241.3" r="0.62" fill="#cac996"/>
<circle cx="396.8" cy="260.2" r="0.43" fill="#8a8a80"/>
<circle cx="426.8" cy="248.4" r="0.57" fill="#7a7672"/>
<circle cx="489.0" cy="237.3" r="0.67" fill="#b9c59a"/>
<circle cx="477.4" cy="192.1" r="0.70" fill="#d4cd92"/>
<circle cx="479.8" cy="239.0" r="0.57" fill="#cac996"/>
<circle cx="407.5" cy="204.5" r="0.49" fill="#7a7672"/>
<circle cx="444.0" cy="214.2" r="0.51" fill="#d4cd92"/>
<circle cx="411.3" cy="195.3" r="0.49" fill="#7a7672"/>
<circle cx="496.4" cy="218.0" r="0.60" fill="#cac996"/>
<circle cx="429.6" cy="193.1" r="0.49" fill="#857f90"/>
<circle cx="453.6" cy="249.7" r="0.56" fill="#cfcb98"/>
<circle cx="418.4" cy="219.4" r="0.46" fill="#7a7672"/>
<circle cx="426.3" cy="251.6" r="0.38" fill="#857f78"/>
<circle cx="440.5" cy="247.6" r="0.59" fill="#857f90"/>
<circle cx="448.6" cy="194.0" r="0.79" fill="#b9c59a"/>
<circle cx="505.3" cy="244.4" r="0.48" fill="#d4cd92"/>
<circle cx="458.6" cy="191.2" r="0.70" fill="#cac996"/>
<circle cx="453.4" cy="222.3" r="0.48" fill="#cfcb98"/>
<circle cx="453.0" cy="233.6" r="0.77" fill="#cac996"/>
<circle cx="387.3" cy="230.1" r="0.64" fill="#7d857a"/>
<circle cx="468.0" cy="257.0" r="0.67" fill="#cac996"/>
<circle cx="394.1" cy="203.4" r="0.48" fill="#978f80"/>
<circle cx="419.5" cy="240.2" r="0.50" fill="#8a8a80"/>
<circle cx="474.5" cy="244.1" r="0.53" fill="#d4cd92"/>
<circle cx="487.2" cy="245.7" r="0.65" fill="#cac996"/>
<circle cx="445.5" cy="208.9" r="0.83" fill="#cfcb98"/>
<circle cx="439.5" cy="240.0" r="0.39" fill="#9a94a0"/>
<circle cx="436.5" cy="204.8" r="0.62" fill="#cac996"/>
<circle cx="476.2" cy="202.6" r="0.74" fill="#c4c68f"/>
<circle cx="434.1" cy="214.1" r="0.38" fill="#8e8a96"/>
<circle cx="498.2" cy="231.9" r="0.59" fill="#d4cd92"/>
<circle cx="490.2" cy="252.2" r="0.73" fill="#cfcb98"/>
<circle cx="427.7" cy="245.6" r="0.36" fill="#7a7672"/>
<circle cx="482.0" cy="259.5" r="0.46" fill="#cfcb98"/>
<circle cx="416.5" cy="225.2" r="0.59" fill="#7a7672"/>
<circle cx="435.7" cy="207.8" r="0.50" fill="#d4cd92"/>
<circle cx="449.5" cy="189.0" r="0.78" fill="#c4c68f"/>
<circle cx="510.1" cy="256.9" r="0.70" fill="#c4c68f"/>
<circle cx="413.3" cy="221.0" r="0.59" fill="#8e8478"/>
<circle cx="408.9" cy="198.6" r="0.51" fill="#7a7672"/>
<circle cx="471.7" cy="246.4" r="0.76" fill="#cfcb98"/>
<circle cx="419.8" cy="222.4" r="0.41" fill="#857f78"/>
<circle cx="488.6" cy="239.1" r="0.45" fill="#cfcb98"/>
<circle cx="497.9" cy="206.3" r="0.47" fill="#c4c68f"/>
<circle cx="503.8" cy="217.2" r="0.69" fill="#d4cd92"/>
<circle cx="512.6" cy="191.3" r="0.78" fill="#cac996"/>
<circle cx="489.9" cy="220.1" r="0.57" fill="#b9c59a"/>
<circle cx="506.7" cy="212.6" r="0.62" fill="#c4c68f"/>
<circle cx="389.5" cy="247.9" r="0.41" fill="#978f80"/>
<circle cx="500.3" cy="221.2" r="0.68" fill="#d4cd92"/>
<circle cx="403.5" cy="192.3" r="0.51" fill="#857f78"/>
<circle cx="501.3" cy="195.2" r="0.74" fill="#c4c68f"/>
<circle cx="408.7" cy="193.5" r="0.47" fill="#7a7672"/>
<circle cx="403.1" cy="261.6" r="0.44" fill="#7d857a"/>
<circle cx="476.5" cy="241.8" r="0.70" fill="#cac996"/>
<circle cx="464.3" cy="203.5" r="0.54" fill="#b9c59a"/>
<circle cx="437.3" cy="228.5" r="0.44" fill="#857f90"/>
<circle cx="405.9" cy="263.7" r="0.36" fill="#8a8a80"/>
<circle cx="492.3" cy="197.4" r="0.79" fill="#b9c59a"/>
<circle cx="418.5" cy="218.5" r="0.46" fill="#7a7672"/>
<circle cx="442.2" cy="190.1" r="0.64" fill="#d4cd92"/>
<circle cx="443.2" cy="236.4" r="0.77" fill="#cac996"/>
<circle cx="437.4" cy="193.5" r="0.49" fill="#c4c68f"/>
<circle cx="467.0" cy="194.7" r="0.48" fill="#b9c59a"/>
<circle cx="481.5" cy="257.8" r="0.46" fill="#cac996"/>
<circle cx="400.9" cy="198.5" r="0.64" fill="#7d857a"/>
<circle cx="502.1" cy="201.1" r="0.48" fill="#cac996"/>
<circle cx="489.5" cy="199.5" r="0.53" fill="#d4cd92"/>
<circle cx="420.2" cy="227.6" r="0.44" fill="#7a7672"/>
<circle cx="412.1" cy="219.6" r="0.58" fill="#8e8478"/>
<circle cx="485.6" cy="197.2" r="0.84" fill="#c4c68f"/>
<circle cx="444.0" cy="228.8" r="0.55" fill="#cfcb98"/>
<circle cx="454.4" cy="254.9" r="0.56" fill="#c4c68f"/>
<circle cx="511.4" cy="233.2" r="0.63" fill="#cfcb98"/>
<circle cx="490.0" cy="208.0" r="0.82" fill="#b9c59a"/>
<circle cx="499.5" cy="245.3" r="0.51" fill="#cac996"/>
<circle cx="464.5" cy="221.9" r="0.50" fill="#cfcb98"/>
<circle cx="432.0" cy="205.7" r="0.43" fill="#9a94a0"/>
<circle cx="404.0" cy="216.8" r="0.39" fill="#8a8a80"/>
<circle cx="399.2" cy="237.9" r="0.47" fill="#7d857a"/>
<circle cx="468.1" cy="232.0" r="0.63" fill="#b9c59a"/>
<circle cx="500.5" cy="191.7" r="0.52" fill="#d4cd92"/>
<circle cx="439.0" cy="228.6" r="0.78" fill="#d4cd92"/>
<circle cx="409.1" cy="212.3" r="0.51" fill="#7a7672"/>
<circle cx="511.9" cy="244.6" r="0.45" fill="#b9c59a"/>
<circle cx="493.1" cy="246.2" r="0.52" fill="#d4cd92"/>
<circle cx="512.2" cy="208.6" r="0.58" fill="#cfcb98"/>
<circle cx="481.2" cy="242.3" r="0.56" fill="#cfcb98"/>
<circle cx="456.6" cy="222.2" r="0.84" fill="#b9c59a"/>
<circle cx="424.3" cy="260.4" r="0.61" fill="#8a8a80"/>
<circle cx="480.5" cy="261.7" r="0.53" fill="#c4c68f"/>
<circle cx="435.9" cy="235.0" r="0.58" fill="#857f90"/>
<circle cx="466.3" cy="242.1" r="0.64" fill="#b9c59a"/>
<circle cx="492.5" cy="242.5" r="0.83" fill="#d4cd92"/>
<circle cx="416.5" cy="257.0" r="0.54" fill="#7d857a"/>
<circle cx="390.6" cy="196.6" r="0.64" fill="#7d857a"/>
<circle cx="393.1" cy="254.8" r="0.60" fill="#8a8a80"/>
<circle cx="496.0" cy="259.3" r="0.55" fill="#cfcb98"/>
<circle cx="506.2" cy="259.1" r="0.78" fill="#cfcb98"/>
<circle cx="508.1" cy="227.4" r="0.75" fill="#b9c59a"/>
<circle cx="486.1" cy="190.7" r="0.59" fill="#cfcb98"/>
<circle cx="495.3" cy="195.4" r="0.62" fill="#cac996"/>
<circle cx="452.9" cy="210.7" r="0.45" fill="#cfcb98"/>
<circle cx="448.7" cy="226.5" r="0.84" fill="#cac996"/>
<circle cx="461.5" cy="262.7" r="0.83" fill="#b9c59a"/>
<circle cx="467.0" cy="194.6" r="0.76" fill="#b9c59a"/>
<circle cx="465.9" cy="215.9" r="0.81" fill="#d4cd92"/>
<circle cx="480.7" cy="221.1" r="0.53" fill="#c4c68f"/>
<circle cx="416.5" cy="224.1" r="0.50" fill="#8e8478"/>
<circle cx="460.1" cy="228.8" r="0.71" fill="#d4cd92"/>
<circle cx="480.2" cy="201.5" r="0.68" fill="#c4c68f"/>
<circle cx="403.0" cy="224.2" r="0.50" fill="#8a8a80"/>
<circle cx="420.7" cy="246.9" r="0.40" fill="#978f80"/>
<circle cx="406.8" cy="207.5" r="0.50" fill="#7a7672"/>
<circle cx="430.9" cy="206.7" r="0.41" fill="#8e8a96"/>
<circle cx="501.5" cy="210.1" r="0.46" fill="#d4cd92"/>
<circle cx="474.2" cy="227.2" r="0.46" fill="#d4cd92"/>
<circle cx="460.9" cy="238.6" r="0.79" fill="#b9c59a"/>
<circle cx="472.4" cy="238.1" r="0.55" fill="#c4c68f"/>
<circle cx="470.1" cy="256.1" r="0.76" fill="#c4c68f"/>
<circle cx="435.9" cy="226.4" r="0.36" fill="#8e8a96"/>
<circle cx="455.3" cy="200.8" r="0.66" fill="#cac996"/>
<circle cx="477.1" cy="228.1" r="0.66" fill="#c4c68f"/>
<circle cx="482.8" cy="197.8" r="0.71" fill="#c4c68f"/>
<circle cx="418.9" cy="218.0" r="0.35" fill="#857f78"/>
<circle cx="439.7" cy="221.0" r="0.68" fill="#c4c68f"/>
<circle cx="506.8" cy="263.8" r="0.63" fill="#d4cd92"/>
<circle cx="487.3" cy="203.3" r="0.78" fill="#cac996"/>
<circle cx="405.5" cy="240.1" r="0.49" fill="#7d857a"/>
<circle cx="424.1" cy="230.9" r="0.54" fill="#857f78"/>
<circle cx="475.5" cy="241.7" r="0.64" fill="#cac996"/>
<circle cx="488.2" cy="250.4" r="0.58" fill="#c4c68f"/>
<circle cx="435.5" cy="194.9" r="0.76" fill="#c4c68f"/>
<circle cx="389.1" cy="189.2" r="0.44" fill="#978f80"/>
<circle cx="463.5" cy="233.2" r="0.76" fill="#cac996"/>
<circle cx="430.6" cy="200.2" r="0.55" fill="#857f90"/>
<circle cx="485.2" cy="240.2" r="0.53" fill="#c4c68f"/>
<circle cx="474.1" cy="229.5" r="0.72" fill="#d4cd92"/>
<circle cx="401.9" cy="197.5" r="0.41" fill="#7a7672"/>
<circle cx="445.8" cy="199.5" r="0.52" fill="#d4cd92"/>
<circle cx="427.4" cy="242.4" r="0.52" fill="#7a7672"/>
<circle cx="492.6" cy="217.4" r="0.52" fill="#cfcb98"/>
<circle cx="414.0" cy="220.6" r="0.43" fill="#857f78"/>
<circle cx="495.3" cy="216.8" r="0.67" fill="#b9c59a"/>
<circle cx="449.1" cy="214.2" r="0.59" fill="#b9c59a"/>
<circle cx="509.2" cy="195.1" r="0.74" fill="#d4cd92"/>
<circle cx="469.7" cy="249.6" r="0.60" fill="#b9c59a"/>
<circle cx="470.4" cy="255.8" r="0.82" fill="#cfcb98"/>
<path d="M398.3,213.6 L403.1,213.6 L400.7,217.8 Z" fill="#111"/>
<path d="M488.5,204.3 L495.5,204.0" stroke="#7a6aa0" stroke-width="0.9"/>
<path d="M492.5,211.4 L492.5,206.8" stroke="#111" stroke-width="1.4"/>
<path d="M490.60,207.80 L492.50,205.00 L494.40,207.80 Z" fill="#111"/>
<path d="M494.6,245.9 L501.6,245.6" stroke="#7a6aa0" stroke-width="0.9"/>
<path d="M498.6,253.0 L498.6,248.4" stroke="#111" stroke-width="1.4"/>
<path d="M496.70,249.40 L498.60,246.60 L500.50,249.40 Z" fill="#111"/>
<path d="M471,198 L479,202" stroke="#8a84a8" stroke-width="0.7"/>
<path d="M488,245 L493,247" stroke="#8a84a8" stroke-width="0.7"/>
<rect x="391.6" y="261.8" width="10.8" height="1.9" fill="#111"/>
</g></g>
<rect x="387.2" y="188.3" width="125.40" height="77.70" fill="none" stroke="#2a2a2a" stroke-width="1.3"/>
<text x="373.2" y="283.4" font-size="11" font-weight="bold" fill="#000">G</text>
<text x="381.0" y="311.9" font-size="7.4" text-anchor="middle" fill="#231f20" transform="rotate(-90 381.0 311.9)" textLength="27.3" lengthAdjust="spacingAndGlyphs">TBI-lung</text>
<clipPath id="cg"><rect x="387.0" y="273.6" width="125.40" height="76.80"/></clipPath>
<filter id="bl" x="0" y="0" width="1" height="1"><feGaussianBlur stdDeviation="0.35"/></filter>
<g clip-path="url(#cg)"><g filter="url(#bl)">
<rect x="387.0" y="273.6" width="125.40" height="76.80" fill="#d3cad0"/>
<path d="M386,273 L403,273 L403.5,279 L399,282.5 L392,283 L386,284 Z" fill="#c6c3c7"/>
<path d="M391,306 L396,300.5 L399.4,292 L406.1,287.1 L416.2,286.2 L426.2,287.9 L431.2,293.8 L433.8,299.7 L431.2,305.5 L426.2,308.9 L421.2,312.2 L416,313 L408,312.5 L398,311 L391,310 Z" fill="#c6c3c7"/>
<path d="M386,313.5 L396,314 L405,315 L409,320 L408,328 L402,333 L386,333 Z" fill="#c6c3c7"/>
<path d="M411,332 L420,329 L436,327.5 L443,329 L449,334 L450,340 L449,351 L409,351 L408,341 Z" fill="#c6c3c7"/>
<path d="M386,336 L395,334.5 L404,337 L408.5,343 L407,351 L386,351 Z" fill="#c6c3c7"/>
<path d="M442.8,295.9 L444.4,294.2 L451.1,295.1 L455.3,298.4 L456.2,305.1 L457.8,310.2 L462.9,313.5 L469.6,316 L473.8,320.2 L474.6,326.1 L471.2,329.4 L464.5,330.3 L456.2,329.4 L449.5,327.8 L442.8,326.1 L437.7,325.2 L432.7,321.9 L429.4,316.9 L429.4,311.8 L432.7,308.5 L437.7,306 L441.1,301.8 Z" fill="#c6c3c7"/>
<path d="M483,316 L489,312 L497,311 L506,313 L513,314 L513,336 L500,337 L489,334 L484,327 Z" fill="#c6c3c7"/>
<path d="M436,273 L456,273 L457,282 L451,287 L442,287 L436,282 Z" fill="#c6c3c7"/>
<path d="M460,278 L470,276 L479,279 L480,287 L474,292 L464,291 L459,286 Z" fill="#c6c3c7"/>
<path d="M492,273 L513,273 L513,297 L505,298 L496,291 L491,282 Z" fill="#c6c3c7"/>
<path d="M482,344 L495,342 L513,341 L513,351 L482,351 Z" fill="#c6c3c7"/>
<circle cx="469.2" cy="301.9" r="2.19" fill="#b0a9c0" opacity="0.7"/>
<circle cx="457.5" cy="293.4" r="1.56" fill="#c9bcc4" opacity="0.7"/>
<circle cx="501.6" cy="311.8" r="1.83" fill="#b9b1c6" opacity="0.7"/>
<circle cx="484.0" cy="305.9" r="2.03" fill="#c9bcc4" opacity="0.7"/>
<circle cx="413.6" cy="285.3" r="1.22" fill="#b9b1c6" opacity="0.7"/>
<circle cx="510.7" cy="339.5" r="1.46" fill="#b9b1c6" opacity="0.7"/>
<circle cx="403.2" cy="275.0" r="2.06" fill="#c2b8c8" opacity="0.7"/>
<circle cx="502.7" cy="301.7" r="2.10" fill="#c2b8c8" opacity="0.7"/>
<circle cx="476.9" cy="274.5" r="1.22" fill="#b9b1c6" opacity="0.7"/>
<circle cx="435.8" cy="297.6" r="1.92" fill="#c9bcc4" opacity="0.7"/>
<circle cx="463.4" cy="297.9" r="2.34" fill="#c9bcc4" opacity="0.7"/>
<circle cx="487.6" cy="310.2" r="2.13" fill="#c9bcc4" opacity="0.7"/>
<circle cx="458.1" cy="296.1" r="1.27" fill="#b0a9c0" opacity="0.7"/>
<circle cx="388.9" cy="285.2" r="2.20" fill="#c9bcc4" opacity="0.7"/>
<circle cx="435.6" cy="302.5" r="2.13" fill="#c2b8c8" opacity="0.7"/>
<circle cx="488.3" cy="295.4" r="1.20" fill="#b0a9c0" opacity="0.7"/>
<circle cx="420.6" cy="285.7" r="2.30" fill="#b9b1c6" opacity="0.7"/>
<circle cx="423.2" cy="284.4" r="2.27" fill="#c2b8c8" opacity="0.7"/>
<circle cx="501.6" cy="300.2" r="1.30" fill="#c9bcc4" opacity="0.7"/>
<circle cx="487.0" cy="289.0" r="2.10" fill="#c2b8c8" opacity="0.7"/>
<circle cx="425.8" cy="278.0" r="1.67" fill="#c2b8c8" opacity="0.7"/>
<circle cx="388.2" cy="303.2" r="1.85" fill="#b0a9c0" opacity="0.7"/>
<circle cx="483.8" cy="291.5" r="1.90" fill="#b0a9c0" opacity="0.7"/>
<circle cx="409.7" cy="327.4" r="1.64" fill="#b0a9c0" opacity="0.7"/>
<circle cx="405.7" cy="277.0" r="2.40" fill="#b0a9c0" opacity="0.7"/>
<circle cx="495.6" cy="302.1" r="1.76" fill="#b9b1c6" opacity="0.7"/>
<circle cx="511.2" cy="340.1" r="1.78" fill="#c2b8c8" opacity="0.7"/>
<circle cx="483.2" cy="336.5" r="2.36" fill="#b0a9c0" opacity="0.7"/>
<circle cx="492.8" cy="299.6" r="2.39" fill="#c9bcc4" opacity="0.7"/>
<circle cx="456.9" cy="340.5" r="1.75" fill="#b9b1c6" opacity="0.7"/>
<circle cx="416.2" cy="280.5" r="2.31" fill="#c9bcc4" opacity="0.7"/>
<circle cx="433.5" cy="291.7" r="2.06" fill="#c2b8c8" opacity="0.7"/>
<circle cx="391.8" cy="293.3" r="1.62" fill="#b9b1c6" opacity="0.7"/>
<circle cx="468.1" cy="349.3" r="1.27" fill="#c2b8c8" opacity="0.7"/>
<circle cx="426.8" cy="274.0" r="1.44" fill="#b0a9c0" opacity="0.7"/>
<circle cx="461.0" cy="307.5" r="1.98" fill="#c9bcc4" opacity="0.7"/>
<circle cx="411.5" cy="276.4" r="2.31" fill="#c2b8c8" opacity="0.7"/>
<circle cx="503.1" cy="303.2" r="1.23" fill="#b9b1c6" opacity="0.7"/>
<circle cx="490.2" cy="310.3" r="1.95" fill="#c2b8c8" opacity="0.7"/>
<circle cx="498.5" cy="307.3" r="1.38" fill="#c9bcc4" opacity="0.7"/>
<circle cx="438.6" cy="285.6" r="1.53" fill="#b0a9c0" opacity="0.7"/>
<circle cx="428.9" cy="286.5" r="1.79" fill="#b0a9c0" opacity="0.7"/>
<circle cx="406.2" cy="313.0" r="1.96" fill="#c2b8c8" opacity="0.7"/>
<circle cx="457.2" cy="337.7" r="1.34" fill="#c2b8c8" opacity="0.7"/>
<circle cx="508.7" cy="306.8" r="1.51" fill="#c2b8c8" opacity="0.7"/>
<circle cx="429.7" cy="284.4" r="1.20" fill="#b0a9c0" opacity="0.7"/>
<circle cx="458.6" cy="284.2" r="1.42" fill="#c2b8c8" opacity="0.7"/>
<circle cx="463.3" cy="311.7" r="1.53" fill="#c2b8c8" opacity="0.7"/>
<circle cx="425.6" cy="274.4" r="2.03" fill="#c9bcc4" opacity="0.7"/>
<circle cx="422.3" cy="322.7" r="2.33" fill="#b9b1c6" opacity="0.7"/>
<circle cx="491.3" cy="301.8" r="1.40" fill="#b0a9c0" opacity="0.7"/>
<circle cx="459.1" cy="339.5" r="1.63" fill="#c9bcc4" opacity="0.7"/>
<circle cx="431.7" cy="292.4" r="2.20" fill="#b0a9c0" opacity="0.7"/>
<circle cx="484.7" cy="340.3" r="1.89" fill="#b9b1c6" opacity="0.7"/>
<circle cx="423.6" cy="281.9" r="2.08" fill="#c9bcc4" opacity="0.7"/>
<circle cx="409.9" cy="281.5" r="1.50" fill="#b9b1c6" opacity="0.7"/>
<circle cx="479.6" cy="293.7" r="2.20" fill="#c9bcc4" opacity="0.7"/>
<circle cx="476.9" cy="277.1" r="1.35" fill="#c9bcc4" opacity="0.7"/>
<circle cx="460.5" cy="332.1" r="1.33" fill="#b9b1c6" opacity="0.7"/>
<circle cx="437.9" cy="284.1" r="1.91" fill="#c2b8c8" opacity="0.7"/>
<circle cx="480.6" cy="286.2" r="2.19" fill="#c9bcc4" opacity="0.7"/>
<circle cx="474.0" cy="319.5" r="1.92" fill="#b9b1c6" opacity="0.7"/>
<circle cx="484.4" cy="299.6" r="1.49" fill="#b0a9c0" opacity="0.7"/>
<circle cx="476.7" cy="338.3" r="1.88" fill="#b0a9c0" opacity="0.7"/>
<circle cx="489.2" cy="338.7" r="1.26" fill="#c2b8c8" opacity="0.7"/>
<circle cx="466.3" cy="301.6" r="1.84" fill="#b9b1c6" opacity="0.7"/>
<circle cx="427.7" cy="289.0" r="2.00" fill="#c2b8c8" opacity="0.7"/>
<circle cx="466.4" cy="335.8" r="2.26" fill="#b9b1c6" opacity="0.7"/>
<circle cx="420.3" cy="325.7" r="1.53" fill="#b9b1c6" opacity="0.7"/>
<circle cx="464.9" cy="292.8" r="1.82" fill="#c9bcc4" opacity="0.7"/>
<circle cx="416.7" cy="276.6" r="1.34" fill="#b0a9c0" opacity="0.7"/>
<circle cx="461.5" cy="347.0" r="1.82" fill="#b0a9c0" opacity="0.7"/>
<circle cx="503.9" cy="307.4" r="1.81" fill="#b0a9c0" opacity="0.7"/>
<circle cx="479.8" cy="295.7" r="1.74" fill="#c2b8c8" opacity="0.7"/>
<circle cx="476.1" cy="309.0" r="1.86" fill="#c9bcc4" opacity="0.7"/>
<circle cx="460.4" cy="274.5" r="1.62" fill="#c2b8c8" opacity="0.7"/>
<circle cx="414.1" cy="278.0" r="1.23" fill="#b9b1c6" opacity="0.7"/>
<circle cx="463.0" cy="300.3" r="1.99" fill="#c9bcc4" opacity="0.7"/>
<circle cx="491.6" cy="300.8" r="2.12" fill="#c2b8c8" opacity="0.7"/>
<circle cx="504.1" cy="305.6" r="2.00" fill="#c2b8c8" opacity="0.7"/>
<circle cx="493.6" cy="336.7" r="1.82" fill="#c9bcc4" opacity="0.7"/>
<circle cx="420.7" cy="322.0" r="1.96" fill="#c2b8c8" opacity="0.7"/>
<circle cx="493.6" cy="295.1" r="1.95" fill="#b9b1c6" opacity="0.7"/>
<circle cx="444.4" cy="329.1" r="1.55" fill="#c9bcc4" opacity="0.7"/>
<circle cx="468.3" cy="274.1" r="2.09" fill="#c9bcc4" opacity="0.7"/>
<circle cx="434.7" cy="296.6" r="1.84" fill="#c2b8c8" opacity="0.7"/>
<circle cx="463.3" cy="292.2" r="1.59" fill="#c9bcc4" opacity="0.7"/>
<circle cx="390.2" cy="293.3" r="2.28" fill="#b0a9c0" opacity="0.7"/>
<circle cx="454.5" cy="350.3" r="1.82" fill="#c9bcc4" opacity="0.7"/>
<circle cx="435.8" cy="301.1" r="1.91" fill="#b0a9c0" opacity="0.7"/>
<circle cx="395.6" cy="291.2" r="1.69" fill="#c9bcc4" opacity="0.7"/>
<circle cx="468.3" cy="344.9" r="1.39" fill="#c2b8c8" opacity="0.7"/>
<circle cx="507.9" cy="311.0" r="1.73" fill="#b0a9c0" opacity="0.7"/>
<circle cx="473.7" cy="330.9" r="1.31" fill="#b0a9c0" opacity="0.7"/>
<circle cx="473.5" cy="336.6" r="2.39" fill="#c9bcc4" opacity="0.7"/>
<circle cx="466.1" cy="313.8" r="2.18" fill="#c2b8c8" opacity="0.7"/>
<circle cx="450.3" cy="288.0" r="1.42" fill="#b9b1c6" opacity="0.7"/>
<circle cx="425.5" cy="326.6" r="1.20" fill="#b0a9c0" opacity="0.7"/>
<circle cx="409.0" cy="332.7" r="1.88" fill="#c2b8c8" opacity="0.7"/>
<circle cx="459.0" cy="305.2" r="1.35" fill="#c2b8c8" opacity="0.7"/>
<circle cx="505.9" cy="311.3" r="1.76" fill="#c9bcc4" opacity="0.7"/>
<circle cx="488.1" cy="278.4" r="1.21" fill="#b0a9c0" opacity="0.7"/>
<circle cx="421.5" cy="276.1" r="1.95" fill="#b9b1c6" opacity="0.7"/>
<circle cx="430.8" cy="308.1" r="1.66" fill="#b9b1c6" opacity="0.7"/>
<circle cx="482.8" cy="277.0" r="1.27" fill="#c2b8c8" opacity="0.7"/>
<circle cx="418.3" cy="277.0" r="2.32" fill="#c2b8c8" opacity="0.7"/>
<circle cx="489.3" cy="296.9" r="1.92" fill="#c9bcc4" opacity="0.7"/>
<circle cx="460.3" cy="305.4" r="1.68" fill="#c9bcc4" opacity="0.7"/>
<circle cx="398.0" cy="286.7" r="1.65" fill="#b9b1c6" opacity="0.7"/>
<circle cx="457.4" cy="282.4" r="1.84" fill="#c9bcc4" opacity="0.7"/>
<circle cx="429.1" cy="323.6" r="2.35" fill="#c9bcc4" opacity="0.7"/>
<circle cx="490.6" cy="300.6" r="1.49" fill="#c2b8c8" opacity="0.7"/>
<circle cx="441.6" cy="295.0" r="1.23" fill="#c2b8c8" opacity="0.7"/>
<circle cx="417.3" cy="283.6" r="1.44" fill="#c2b8c8" opacity="0.7"/>
<circle cx="486.7" cy="292.0" r="1.64" fill="#c2b8c8" opacity="0.7"/>
<circle cx="477.6" cy="302.5" r="2.35" fill="#c2b8c8" opacity="0.7"/>
<circle cx="471.7" cy="346.0" r="2.40" fill="#c9bcc4" opacity="0.7"/>
<circle cx="460.7" cy="301.9" r="1.50" fill="#c2b8c8" opacity="0.7"/>
<circle cx="482.9" cy="275.8" r="2.06" fill="#c2b8c8" opacity="0.7"/>
<circle cx="397.8" cy="287.2" r="2.22" fill="#b0a9c0" opacity="0.7"/>
<circle cx="411.2" cy="328.8" r="1.31" fill="#b0a9c0" opacity="0.7"/>
<circle cx="497.7" cy="339.7" r="1.36" fill="#b0a9c0" opacity="0.7"/>
<path d="M475.3,309.1 L472.1,309.1" stroke="#c0a08a" stroke-width="0.8"/>
<path d="M463.4,290.4 L461.7,293.2" stroke="#c0a08a" stroke-width="0.8"/>
<path d="M463.3,306.7 L461.5,308.4" stroke="#c0a08a" stroke-width="0.8"/>
<path d="M479.6,316.0 L477.7,320.5" stroke="#c0a08a" stroke-width="0.8"/>
<path d="M457.8,291.1 L457.8,294.6" stroke="#c0a08a" stroke-width="0.8"/>
<path d="M459.1,345.5 L463.2,346.9" stroke="#c0a08a" stroke-width="0.8"/>
<path d="M469.2,342.8 L465.7,344.2" stroke="#c0a08a" stroke-width="0.8"/>
<path d="M474.3,348.4 L473.1,350.2" stroke="#c0a08a" stroke-width="0.8"/>
<path d="M414.7,314.1 L416.9,318.4" stroke="#c0a08a" stroke-width="0.8"/>
<path d="M412.8,325.3 L409.0,327.3" stroke="#c0a08a" stroke-width="0.8"/>
<path d="M448.4,288.1 L444.0,288.8" stroke="#c0a08a" stroke-width="0.8"/>
<path d="M457.1,287.0 L460.9,289.1" stroke="#c0a08a" stroke-width="0.8"/>
<path d="M430.5,280.7 L429.5,282.9" stroke="#c0a08a" stroke-width="0.8"/>
<path d="M473.1,311.0 L473.3,315.1" stroke="#c0a08a" stroke-width="0.8"/>
<path d="M475.7,318.7 L478.6,321.4" stroke="#c0a08a" stroke-width="0.8"/>
<path d="M492.3,304.8 L495.5,307.2" stroke="#c0a08a" stroke-width="0.8"/>
<path d="M388.6,311.0 L393.2,311.6" stroke="#c0a08a" stroke-width="0.8"/>
<path d="M425.1,282.1 L427.9,286.1" stroke="#c0a08a" stroke-width="0.8"/>
<path d="M458.4,295.8 L458.0,297.9" stroke="#c0a08a" stroke-width="0.8"/>
<path d="M447.9,331.0 L450.0,334.6" stroke="#c0a08a" stroke-width="0.8"/>
<path d="M420.2,323.1 L416.7,323.6" stroke="#c0a08a" stroke-width="0.8"/>
<path d="M485.3,298.3 L486.3,300.4" stroke="#c0a08a" stroke-width="0.8"/>
<path d="M422.9,320.7 L420.1,323.8" stroke="#c0a08a" stroke-width="0.8"/>
<path d="M480.7,275.5 L481.5,277.8" stroke="#c0a08a" stroke-width="0.8"/>
<path d="M452.9,342.4 L451.6,344.3" stroke="#c0a08a" stroke-width="0.8"/>
<path d="M477.1,297.4 L476.0,300.4" stroke="#c0a08a" stroke-width="0.8"/>
<path d="M468.2,301.0 L470.0,302.6" stroke="#c0a08a" stroke-width="0.8"/>
<path d="M502.3,337.9 L503.9,339.5" stroke="#c0a08a" stroke-width="0.8"/>
<path d="M400.4,335.3 L395.6,336.5" stroke="#c0a08a" stroke-width="0.8"/>
<path d="M478.6,350.1 L477.4,353.7" stroke="#c0a08a" stroke-width="0.8"/>
<path d="M493.7,310.4 L496.1,312.4" stroke="#c0a08a" stroke-width="0.8"/>
<path d="M405.0,279.1 L409.0,279.8" stroke="#c0a08a" stroke-width="0.8"/>
<path d="M409.1,329.3 L409.9,331.1" stroke="#c0a08a" stroke-width="0.8"/>
<path d="M458.2,309.6 L457.7,313.1" stroke="#c0a08a" stroke-width="0.8"/>
<path d="M477.6,299.1 L475.9,302.3" stroke="#c0a08a" stroke-width="0.8"/>
<path d="M439.8,301.9 L438.7,304.0" stroke="#c0a08a" stroke-width="0.8"/>
<path d="M466.5,338.7 L469.7,341.4" stroke="#c0a08a" stroke-width="0.8"/>
<path d="M505.3,301.2 L507.7,303.5" stroke="#c0a08a" stroke-width="0.8"/>
<path d="M481.0,290.6 L477.6,292.5" stroke="#c0a08a" stroke-width="0.8"/>
<path d="M410.5,325.1 L408.9,327.2" stroke="#c0a08a" stroke-width="0.8"/>
<path d="M474.4,330.1 L470.8,331.1" stroke="#c0a08a" stroke-width="0.8"/>
<path d="M487.4,283.9 L487.3,287.4" stroke="#c0a08a" stroke-width="0.8"/>
<path d="M465.6,347.4 L465.4,350.7" stroke="#c0a08a" stroke-width="0.8"/>
<path d="M473.0,315.4 L470.5,315.7" stroke="#c0a08a" stroke-width="0.8"/>
<path d="M506.8,308.9 L509.1,309.8" stroke="#c0a08a" stroke-width="0.8"/>
<path d="M492.5,335.4 L491.1,336.9" stroke="#c0a08a" stroke-width="0.8"/>
<path d="M489.4,300.7 L490.7,303.4" stroke="#c0a08a" stroke-width="0.8"/>
<path d="M462.6,276.2 L460.0,277.0" stroke="#c0a08a" stroke-width="0.8"/>
<path d="M431.4,326.9 L436.4,327.2" stroke="#c0a08a" stroke-width="0.8"/>
<path d="M419.4,285.1 L414.9,286.1" stroke="#c0a08a" stroke-width="0.8"/>
<path d="M471.0,337.8 L470.2,340.5" stroke="#c0a08a" stroke-width="0.8"/>
<path d="M473.9,308.1 L477.6,311.3" stroke="#c0a08a" stroke-width="0.8"/>
<path d="M478.2,299.0 L478.7,303.8" stroke="#c0a08a" stroke-width="0.8"/>
<path d="M447.6,291.0 L450.9,294.3" stroke="#c0a08a" stroke-width="0.8"/>
<path d="M435.2,278.5 L432.1,278.6" stroke="#c0a08a" stroke-width="0.8"/>
<path d="M398.9,288.9 L399.8,292.5" stroke="#c0a08a" stroke-width="0.8"/>
<path d="M399.4,334.4 L397.3,336.1" stroke="#c0a08a" stroke-width="0.8"/>
<path d="M486.9,284.4 L491.7,285.5" stroke="#c0a08a" stroke-width="0.8"/>
<path d="M494.0,292.4 L490.2,294.0" stroke="#c0a08a" stroke-width="0.8"/>
<path d="M428.9,327.7 L426.5,331.7" stroke="#c0a08a" stroke-width="0.8"/>
<path d="M485.1,312.3 L480.9,313.7" stroke="#c0a08a" stroke-width="0.8"/>
<path d="M442.8,295.9 L444.4,294.2 L451.1,295.1 L455.3,298.4 L456.2,305.1 L457.8,310.2 L462.9,313.5 L469.6,316 L473.8,320.2 L474.6,326.1 L471.2,329.4 L464.5,330.3 L456.2,329.4 L449.5,327.8 L442.8,326.1 L437.7,325.2 L432.7,321.9 L429.4,316.9 L429.4,311.8 L432.7,308.5 L437.7,306 L441.1,301.8 Z" fill="none" stroke="#b98049" stroke-width="1.4" stroke-linejoin="round"/>
<path d="M396,300.5 L399.4,292 L406.1,287.1 L416.2,286.2 L426.2,287.9 L431.2,293.8 L433.8,299.7 L431.2,305.5 L426.2,308.9 L421.2,312.2 L418.7,315.6" fill="none" stroke="#b8844f" stroke-width="1.2" stroke-linejoin="round"/>
<path d="M408,341 L411,332 L420,329 L436,327 L446,333 L449,340" fill="none" stroke="#b8844f" stroke-width="1.2" stroke-linejoin="round"/>
<path d="M482,327 L481,316 L487,312 L497,311 L506,313 L513,314" fill="none" stroke="#b8844f" stroke-width="1.2" stroke-linejoin="round"/>
<ellipse cx="471.2" cy="304.7" rx="1.38" ry="1.06" fill="#7e7aa4" transform="rotate(167 471.2 304.7)"/>
<ellipse cx="395.3" cy="296.8" rx="1.32" ry="1.04" fill="#524e80" transform="rotate(99 395.3 296.8)"/>
<ellipse cx="396.2" cy="288.2" rx="1.75" ry="0.98" fill="#524e80" transform="rotate(55 396.2 288.2)"/>
<ellipse cx="510.8" cy="301.0" rx="1.64" ry="0.92" fill="#5a5688" transform="rotate(156 510.8 301.0)"/>
<ellipse cx="492.2" cy="298.1" rx="1.22" ry="1.11" fill="#625e90" transform="rotate(98 492.2 298.1)"/>
<ellipse cx="465.6" cy="291.8" rx="1.11" ry="0.77" fill="#7e7aa4" transform="rotate(81 465.6 291.8)"/>
<ellipse cx="422.4" cy="312.1" rx="1.17" ry="0.85" fill="#625e90" transform="rotate(10 422.4 312.1)"/>
<ellipse cx="496.8" cy="299.8" rx="1.20" ry="0.83" fill="#5a5688" transform="rotate(97 496.8 299.8)"/>
<ellipse cx="467.2" cy="344.5" rx="1.25" ry="0.88" fill="#4a4674" transform="rotate(135 467.2 344.5)"/>
<ellipse cx="510.9" cy="304.3" rx="1.76" ry="1.10" fill="#524e80" transform="rotate(5 510.9 304.3)"/>
<ellipse cx="457.7" cy="349.4" rx="1.14" ry="1.00" fill="#524e80" transform="rotate(130 457.7 349.4)"/>
<ellipse cx="406.6" cy="275.0" rx="1.25" ry="0.96" fill="#524e80" transform="rotate(151 406.6 275.0)"/>
<ellipse cx="489.1" cy="306.1" rx="1.48" ry="0.99" fill="#4a4674" transform="rotate(100 489.1 306.1)"/>
<ellipse cx="464.6" cy="336.1" rx="1.43" ry="0.76" fill="#4a4674" transform="rotate(117 464.6 336.1)"/>
<ellipse cx="421.9" cy="313.8" rx="1.76" ry="0.80" fill="#6e6a98" transform="rotate(2 421.9 313.8)"/>
<ellipse cx="399.5" cy="335.7" rx="1.78" ry="0.81" fill="#6e6a98" transform="rotate(113 399.5 335.7)"/>
<ellipse cx="481.9" cy="280.5" rx="1.12" ry="0.80" fill="#7e7aa4" transform="rotate(11 481.9 280.5)"/>
<ellipse cx="463.0" cy="330.2" rx="1.73" ry="1.10" fill="#625e90" transform="rotate(154 463.0 330.2)"/>
<ellipse cx="469.8" cy="274.8" rx="1.66" ry="1.12" fill="#524e80" transform="rotate(121 469.8 274.8)"/>
<ellipse cx="441.4" cy="291.4" rx="1.24" ry="1.05" fill="#524e80" transform="rotate(116 441.4 291.4)"/>
<ellipse cx="486.2" cy="310.3" rx="1.75" ry="1.06" fill="#625e90" transform="rotate(172 486.2 310.3)"/>
<ellipse cx="490.2" cy="295.3" rx="1.33" ry="0.94" fill="#625e90" transform="rotate(160 490.2 295.3)"/>
<ellipse cx="427.1" cy="320.5" rx="1.77" ry="0.83" fill="#625e90" transform="rotate(9 427.1 320.5)"/>
<ellipse cx="484.1" cy="307.3" rx="1.40" ry="0.81" fill="#4a4674" transform="rotate(169 484.1 307.3)"/>
<ellipse cx="479.3" cy="281.1" rx="1.22" ry="1.02" fill="#524e80" transform="rotate(16 479.3 281.1)"/>
<ellipse cx="412.3" cy="321.8" rx="1.11" ry="0.80" fill="#7e7aa4" transform="rotate(107 412.3 321.8)"/>
<ellipse cx="511.2" cy="297.9" rx="1.72" ry="0.80" fill="#625e90" transform="rotate(88 511.2 297.9)"/>
<ellipse cx="393.0" cy="334.2" rx="1.77" ry="0.86" fill="#5a5688" transform="rotate(59 393.0 334.2)"/>
<ellipse cx="468.9" cy="315.4" rx="1.48" ry="1.03" fill="#4a4674" transform="rotate(177 468.9 315.4)"/>
<ellipse cx="477.0" cy="304.3" rx="1.32" ry="0.92" fill="#6e6a98" transform="rotate(175 477.0 304.3)"/>
<ellipse cx="482.4" cy="341.3" rx="1.66" ry="1.11" fill="#625e90" transform="rotate(114 482.4 341.3)"/>
<ellipse cx="463.2" cy="344.7" rx="1.28" ry="0.99" fill="#625e90" transform="rotate(68 463.2 344.7)"/>
<ellipse cx="464.9" cy="276.2" rx="1.60" ry="0.91" fill="#4a4674" transform="rotate(101 464.9 276.2)"/>
<ellipse cx="480.2" cy="302.7" rx="1.60" ry="0.91" fill="#7e7aa4" transform="rotate(95 480.2 302.7)"/>
<ellipse cx="469.7" cy="337.1" rx="1.15" ry="1.07" fill="#7e7aa4" transform="rotate(120 469.7 337.1)"/>
<ellipse cx="483.0" cy="293.7" rx="1.69" ry="1.09" fill="#7e7aa4" transform="rotate(63 483.0 293.7)"/>
<ellipse cx="446.8" cy="290.6" rx="1.20" ry="1.12" fill="#7e7aa4" transform="rotate(95 446.8 290.6)"/>
<ellipse cx="468.8" cy="343.5" rx="1.33" ry="0.89" fill="#6e6a98" transform="rotate(155 468.8 343.5)"/>
<ellipse cx="402.4" cy="285.4" rx="1.28" ry="0.79" fill="#7e7aa4" transform="rotate(64 402.4 285.4)"/>
<ellipse cx="482.2" cy="285.1" rx="1.58" ry="0.90" fill="#625e90" transform="rotate(94 482.2 285.1)"/>
<ellipse cx="465.1" cy="313.8" rx="1.66" ry="0.85" fill="#5a5688" transform="rotate(100 465.1 313.8)"/>
<ellipse cx="458.5" cy="278.0" rx="1.22" ry="1.04" fill="#524e80" transform="rotate(49 458.5 278.0)"/>
<ellipse cx="434.1" cy="276.8" rx="1.63" ry="1.14" fill="#7e7aa4" transform="rotate(78 434.1 276.8)"/>
<ellipse cx="488.7" cy="300.7" rx="1.37" ry="0.98" fill="#625e90" transform="rotate(166 488.7 300.7)"/>
<ellipse cx="509.6" cy="339.0" rx="1.51" ry="0.78" fill="#5a5688" transform="rotate(37 509.6 339.0)"/>
<ellipse cx="486.3" cy="281.9" rx="1.49" ry="1.12" fill="#6e6a98" transform="rotate(126 486.3 281.9)"/>
<ellipse cx="456.5" cy="332.7" rx="1.64" ry="0.80" fill="#5a5688" transform="rotate(40 456.5 332.7)"/>
<ellipse cx="458.6" cy="274.8" rx="1.45" ry="1.09" fill="#6e6a98" transform="rotate(39 458.6 274.8)"/>
<ellipse cx="489.4" cy="340.6" rx="1.20" ry="0.88" fill="#5a5688" transform="rotate(93 489.4 340.6)"/>
<ellipse cx="410.3" cy="315.0" rx="1.46" ry="0.78" fill="#4a4674" transform="rotate(69 410.3 315.0)"/>
<ellipse cx="487.5" cy="289.0" rx="1.74" ry="0.97" fill="#524e80" transform="rotate(9 487.5 289.0)"/>
<ellipse cx="490.3" cy="276.3" rx="1.25" ry="0.93" fill="#625e90" transform="rotate(36 490.3 276.3)"/>
<ellipse cx="504.2" cy="307.8" rx="1.71" ry="0.77" fill="#4a4674" transform="rotate(78 504.2 307.8)"/>
<ellipse cx="402.6" cy="284.1" rx="1.72" ry="1.08" fill="#5a5688" transform="rotate(89 402.6 284.1)"/>
<ellipse cx="506.2" cy="305.4" rx="1.56" ry="0.85" fill="#4a4674" transform="rotate(163 506.2 305.4)"/>
<ellipse cx="403.7" cy="285.9" rx="1.41" ry="1.05" fill="#524e80" transform="rotate(157 403.7 285.9)"/>
<ellipse cx="475.7" cy="328.8" rx="1.32" ry="0.85" fill="#625e90" transform="rotate(99 475.7 328.8)"/>
<ellipse cx="406.0" cy="335.0" rx="1.79" ry="0.91" fill="#6e6a98" transform="rotate(6 406.0 335.0)"/>
<ellipse cx="391.9" cy="300.6" rx="1.56" ry="0.83" fill="#7e7aa4" transform="rotate(118 391.9 300.6)"/>
<ellipse cx="453.0" cy="295.9" rx="1.34" ry="1.05" fill="#5a5688" transform="rotate(89 453.0 295.9)"/>
<ellipse cx="460.2" cy="331.7" rx="1.24" ry="0.94" fill="#625e90" transform="rotate(138 460.2 331.7)"/>
<ellipse cx="459.6" cy="296.6" rx="1.51" ry="0.79" fill="#625e90" transform="rotate(0 459.6 296.6)"/>
<ellipse cx="428.8" cy="308.1" rx="1.27" ry="1.05" fill="#524e80" transform="rotate(32 428.8 308.1)"/>
<ellipse cx="480.7" cy="282.3" rx="1.21" ry="0.91" fill="#5a5688" transform="rotate(6 480.7 282.3)"/>
<ellipse cx="434.0" cy="324.5" rx="1.21" ry="0.82" fill="#524e80" transform="rotate(169 434.0 324.5)"/>
<ellipse cx="416.9" cy="285.4" rx="1.29" ry="0.97" fill="#625e90" transform="rotate(58 416.9 285.4)"/>
<ellipse cx="407.6" cy="314.7" rx="1.45" ry="0.90" fill="#6e6a98" transform="rotate(36 407.6 314.7)"/>
<ellipse cx="456.6" cy="349.5" rx="1.74" ry="1.04" fill="#625e90" transform="rotate(96 456.6 349.5)"/>
<ellipse cx="416.3" cy="319.3" rx="1.65" ry="1.03" fill="#625e90" transform="rotate(11 416.3 319.3)"/>
<ellipse cx="396.2" cy="299.5" rx="1.17" ry="0.84" fill="#625e90" transform="rotate(139 396.2 299.5)"/>
<ellipse cx="489.2" cy="299.9" rx="1.67" ry="0.93" fill="#5a5688" transform="rotate(166 489.2 299.9)"/>
<ellipse cx="391.0" cy="334.2" rx="1.20" ry="0.95" fill="#524e80" transform="rotate(30 391.0 334.2)"/>
<ellipse cx="483.6" cy="289.2" rx="1.75" ry="1.02" fill="#5a5688" transform="rotate(128 483.6 289.2)"/>
<ellipse cx="449.4" cy="333.4" rx="1.74" ry="1.05" fill="#625e90" transform="rotate(115 449.4 333.4)"/>
<ellipse cx="460.1" cy="335.3" rx="1.44" ry="1.06" fill="#524e80" transform="rotate(89 460.1 335.3)"/>
<ellipse cx="480.4" cy="337.5" rx="1.66" ry="0.99" fill="#4a4674" transform="rotate(78 480.4 337.5)"/>
<ellipse cx="485.4" cy="340.5" rx="1.31" ry="1.13" fill="#4a4674" transform="rotate(96 485.4 340.5)"/>
<ellipse cx="476.1" cy="303.7" rx="1.65" ry="1.07" fill="#524e80" transform="rotate(123 476.1 303.7)"/>
<ellipse cx="490.6" cy="304.8" rx="1.16" ry="1.01" fill="#524e80" transform="rotate(151 490.6 304.8)"/>
<ellipse cx="470.2" cy="343.0" rx="1.40" ry="0.87" fill="#7e7aa4" transform="rotate(54 470.2 343.0)"/>
<ellipse cx="429.1" cy="290.0" rx="1.35" ry="1.09" fill="#524e80" transform="rotate(111 429.1 290.0)"/>
<ellipse cx="498.6" cy="304.9" rx="1.48" ry="0.85" fill="#4a4674" transform="rotate(39 498.6 304.9)"/>
<ellipse cx="499.1" cy="303.9" rx="1.45" ry="1.13" fill="#7e7aa4" transform="rotate(91 499.1 303.9)"/>
<ellipse cx="505.5" cy="308.5" rx="1.67" ry="0.85" fill="#5a5688" transform="rotate(63 505.5 308.5)"/>
<ellipse cx="425.3" cy="328.1" rx="1.58" ry="1.13" fill="#5a5688" transform="rotate(146 425.3 328.1)"/>
<ellipse cx="472.7" cy="316.4" rx="1.41" ry="1.05" fill="#4a4674" transform="rotate(160 472.7 316.4)"/>
<ellipse cx="463.1" cy="308.8" rx="1.76" ry="0.94" fill="#524e80" transform="rotate(1 463.1 308.8)"/>
<ellipse cx="392.9" cy="303.7" rx="1.62" ry="1.01" fill="#625e90" transform="rotate(51 392.9 303.7)"/>
<ellipse cx="423.5" cy="315.4" rx="1.39" ry="1.14" fill="#4a4674" transform="rotate(117 423.5 315.4)"/>
<ellipse cx="467.2" cy="311.5" rx="1.78" ry="0.89" fill="#524e80" transform="rotate(163 467.2 311.5)"/>
<ellipse cx="407.3" cy="317.8" rx="1.68" ry="1.07" fill="#625e90" transform="rotate(63 407.3 317.8)"/>
<ellipse cx="425.6" cy="313.6" rx="1.58" ry="1.11" fill="#6e6a98" transform="rotate(106 425.6 313.6)"/>
<ellipse cx="484.4" cy="301.3" rx="1.59" ry="0.86" fill="#6e6a98" transform="rotate(160 484.4 301.3)"/>
<ellipse cx="426.5" cy="285.3" rx="1.63" ry="0.94" fill="#4a4674" transform="rotate(101 426.5 285.3)"/>
<ellipse cx="476.9" cy="304.0" rx="1.67" ry="1.09" fill="#6e6a98" transform="rotate(22 476.9 304.0)"/>
<ellipse cx="483.7" cy="276.8" rx="1.68" ry="0.98" fill="#524e80" transform="rotate(64 483.7 276.8)"/>
<ellipse cx="455.8" cy="331.5" rx="1.57" ry="0.92" fill="#5a5688" transform="rotate(145 455.8 331.5)"/>
<ellipse cx="477.7" cy="330.6" rx="1.18" ry="0.91" fill="#4a4674" transform="rotate(151 477.7 330.6)"/>
<ellipse cx="492.2" cy="304.3" rx="1.45" ry="0.88" fill="#4a4674" transform="rotate(156 492.2 304.3)"/>
<ellipse cx="470.9" cy="342.8" rx="1.19" ry="0.89" fill="#6e6a98" transform="rotate(12 470.9 342.8)"/>
<ellipse cx="478.4" cy="333.9" rx="1.58" ry="1.09" fill="#625e90" transform="rotate(24 478.4 333.9)"/>
<ellipse cx="471.2" cy="331.5" rx="1.45" ry="1.11" fill="#4a4674" transform="rotate(162 471.2 331.5)"/>
<ellipse cx="423.1" cy="323.3" rx="1.71" ry="0.90" fill="#4a4674" transform="rotate(161 423.1 323.3)"/>
<ellipse cx="487.6" cy="301.2" rx="1.59" ry="0.78" fill="#524e80" transform="rotate(151 487.6 301.2)"/>
<ellipse cx="453.5" cy="291.3" rx="1.49" ry="1.08" fill="#7e7aa4" transform="rotate(51 453.5 291.3)"/>
<ellipse cx="390.6" cy="312.4" rx="1.40" ry="0.78" fill="#4a4674" transform="rotate(113 390.6 312.4)"/>
<ellipse cx="506.7" cy="305.0" rx="1.57" ry="1.10" fill="#524e80" transform="rotate(10 506.7 305.0)"/>
<ellipse cx="507.6" cy="298.9" rx="1.79" ry="0.78" fill="#625e90" transform="rotate(86 507.6 298.9)"/>
<ellipse cx="401.0" cy="286.3" rx="1.63" ry="0.78" fill="#5a5688" transform="rotate(162 401.0 286.3)"/>
<ellipse cx="442.0" cy="288.8" rx="1.59" ry="0.83" fill="#7e7aa4" transform="rotate(48 442.0 288.8)"/>
<ellipse cx="481.7" cy="338.0" rx="1.31" ry="1.06" fill="#4a4674" transform="rotate(4 481.7 338.0)"/>
<ellipse cx="477.6" cy="328.9" rx="1.14" ry="0.83" fill="#4a4674" transform="rotate(2 477.6 328.9)"/>
<ellipse cx="477.5" cy="322.0" rx="1.28" ry="0.89" fill="#4a4674" transform="rotate(29 477.5 322.0)"/>
<ellipse cx="479.7" cy="326.7" rx="1.39" ry="0.76" fill="#5a5688" transform="rotate(128 479.7 326.7)"/>
<ellipse cx="497.9" cy="310.9" rx="1.16" ry="0.89" fill="#625e90" transform="rotate(57 497.9 310.9)"/>
<ellipse cx="435.8" cy="300.8" rx="1.56" ry="1.13" fill="#524e80" transform="rotate(35 435.8 300.8)"/>
<ellipse cx="478.8" cy="303.1" rx="1.67" ry="1.09" fill="#5a5688" transform="rotate(24 478.8 303.1)"/>
<ellipse cx="397.8" cy="333.5" rx="1.24" ry="0.98" fill="#524e80" transform="rotate(164 397.8 333.5)"/>
<ellipse cx="483.4" cy="343.0" rx="1.11" ry="0.83" fill="#5a5688" transform="rotate(64 483.4 343.0)"/>
<ellipse cx="472.9" cy="343.8" rx="1.63" ry="0.98" fill="#6e6a98" transform="rotate(129 472.9 343.8)"/>
<ellipse cx="487.3" cy="341.9" rx="1.10" ry="0.98" fill="#625e90" transform="rotate(134 487.3 341.9)"/>
<ellipse cx="466.5" cy="330.6" rx="1.13" ry="0.79" fill="#5a5688" transform="rotate(176 466.5 330.6)"/>
<ellipse cx="420.0" cy="285.4" rx="1.11" ry="1.05" fill="#4a4674" transform="rotate(19 420.0 285.4)"/>
<ellipse cx="399.1" cy="284.6" rx="1.47" ry="1.00" fill="#7e7aa4" transform="rotate(58 399.1 284.6)"/>
<ellipse cx="485.7" cy="341.9" rx="1.74" ry="0.75" fill="#7e7aa4" transform="rotate(153 485.7 341.9)"/>
<ellipse cx="463.8" cy="334.4" rx="1.48" ry="1.03" fill="#7e7aa4" transform="rotate(119 463.8 334.4)"/>
<ellipse cx="423.5" cy="304.1" rx="1.62" ry="0.76" fill="#6e6a98" transform="rotate(149 423.5 304.1)"/>
<ellipse cx="413.2" cy="328.0" rx="1.61" ry="1.02" fill="#7e7aa4" transform="rotate(177 413.2 328.0)"/>
<ellipse cx="463.0" cy="348.8" rx="1.64" ry="0.75" fill="#5a5688" transform="rotate(13 463.0 348.8)"/>
<ellipse cx="472.6" cy="332.5" rx="1.25" ry="0.90" fill="#7e7aa4" transform="rotate(177 472.6 332.5)"/>
<ellipse cx="459.0" cy="289.8" rx="1.63" ry="1.05" fill="#5a5688" transform="rotate(14 459.0 289.8)"/>
<ellipse cx="472.4" cy="338.9" rx="1.40" ry="1.10" fill="#524e80" transform="rotate(32 472.4 338.9)"/>
<ellipse cx="442.4" cy="327.9" rx="1.28" ry="0.87" fill="#524e80" transform="rotate(63 442.4 327.9)"/>
<ellipse cx="434.9" cy="286.1" rx="1.21" ry="1.13" fill="#6e6a98" transform="rotate(118 434.9 286.1)"/>
<ellipse cx="482.6" cy="337.9" rx="1.80" ry="1.05" fill="#625e90" transform="rotate(49 482.6 337.9)"/>
<ellipse cx="430.0" cy="279.7" rx="1.21" ry="0.76" fill="#6e6a98" transform="rotate(153 430.0 279.7)"/>
<ellipse cx="465.6" cy="301.8" rx="1.48" ry="1.14" fill="#7e7aa4" transform="rotate(29 465.6 301.8)"/>
<ellipse cx="476.6" cy="306.7" rx="1.18" ry="1.13" fill="#7e7aa4" transform="rotate(110 476.6 306.7)"/>
<ellipse cx="481.4" cy="292.7" rx="1.28" ry="0.76" fill="#625e90" transform="rotate(124 481.4 292.7)"/>
<ellipse cx="479.9" cy="284.5" rx="1.15" ry="0.78" fill="#5a5688" transform="rotate(70 479.9 284.5)"/>
<ellipse cx="432.3" cy="284.5" rx="1.18" ry="0.95" fill="#4a4674" transform="rotate(175 432.3 284.5)"/>
<ellipse cx="497.1" cy="339.7" rx="1.42" ry="0.88" fill="#6e6a98" transform="rotate(37 497.1 339.7)"/>
<ellipse cx="490.9" cy="291.0" rx="1.70" ry="1.07" fill="#524e80" transform="rotate(121 490.9 291.0)"/>
<ellipse cx="465.4" cy="338.5" rx="1.15" ry="0.79" fill="#4a4674" transform="rotate(141 465.4 338.5)"/>
<ellipse cx="405.0" cy="281.1" rx="1.79" ry="0.90" fill="#7e7aa4" transform="rotate(117 405.0 281.1)"/>
<ellipse cx="433.3" cy="295.2" rx="1.43" ry="0.94" fill="#7e7aa4" transform="rotate(20 433.3 295.2)"/>
<ellipse cx="480.3" cy="316.8" rx="1.71" ry="1.13" fill="#5a5688" transform="rotate(154 480.3 316.8)"/>
<ellipse cx="475.2" cy="310.1" rx="1.28" ry="0.95" fill="#7e7aa4" transform="rotate(113 475.2 310.1)"/>
<ellipse cx="444.5" cy="329.2" rx="1.41" ry="1.09" fill="#625e90" transform="rotate(51 444.5 329.2)"/>
<ellipse cx="492.2" cy="297.0" rx="1.32" ry="0.83" fill="#5a5688" transform="rotate(12 492.2 297.0)"/>
<ellipse cx="472.2" cy="274.6" rx="1.76" ry="0.84" fill="#7e7aa4" transform="rotate(86 472.2 274.6)"/>
<ellipse cx="391.0" cy="287.2" rx="1.39" ry="1.03" fill="#625e90" transform="rotate(102 391.0 287.2)"/>
<ellipse cx="457.5" cy="294.6" rx="1.39" ry="1.11" fill="#625e90" transform="rotate(180 457.5 294.6)"/>
<ellipse cx="459.9" cy="341.7" rx="1.14" ry="0.84" fill="#7e7aa4" transform="rotate(30 459.9 341.7)"/>
<ellipse cx="489.8" cy="334.3" rx="1.28" ry="0.98" fill="#625e90" transform="rotate(40 489.8 334.3)"/>
<ellipse cx="460.5" cy="335.1" rx="1.73" ry="1.13" fill="#5a5688" transform="rotate(35 460.5 335.1)"/>
<ellipse cx="461.3" cy="293.1" rx="1.37" ry="1.09" fill="#4a4674" transform="rotate(172 461.3 293.1)"/>
<ellipse cx="465.3" cy="309.8" rx="1.57" ry="1.07" fill="#6e6a98" transform="rotate(2 465.3 309.8)"/>
<ellipse cx="498.6" cy="309.4" rx="1.33" ry="1.14" fill="#5a5688" transform="rotate(176 498.6 309.4)"/>
<ellipse cx="479.2" cy="301.2" rx="1.56" ry="1.06" fill="#625e90" transform="rotate(23 479.2 301.2)"/>
<ellipse cx="467.2" cy="341.1" rx="1.18" ry="0.95" fill="#7e7aa4" transform="rotate(159 467.2 341.1)"/>
<ellipse cx="475.3" cy="307.2" rx="1.22" ry="0.94" fill="#4a4674" transform="rotate(3 475.3 307.2)"/>
<ellipse cx="484.9" cy="303.9" rx="1.18" ry="1.00" fill="#7e7aa4" transform="rotate(53 484.9 303.9)"/>
<ellipse cx="462.4" cy="338.9" rx="1.71" ry="0.99" fill="#5a5688" transform="rotate(36 462.4 338.9)"/>
<ellipse cx="461.7" cy="305.3" rx="1.49" ry="0.76" fill="#625e90" transform="rotate(144 461.7 305.3)"/>
<ellipse cx="397.8" cy="292.7" rx="1.22" ry="0.82" fill="#625e90" transform="rotate(162 397.8 292.7)"/>
<ellipse cx="447.0" cy="293.5" rx="1.14" ry="0.78" fill="#5a5688" transform="rotate(29 447.0 293.5)"/>
<ellipse cx="492.2" cy="306.1" rx="1.31" ry="0.76" fill="#5a5688" transform="rotate(56 492.2 306.1)"/>
<ellipse cx="487.6" cy="280.8" rx="1.51" ry="0.83" fill="#6e6a98" transform="rotate(127 487.6 280.8)"/>
<ellipse cx="486.2" cy="291.4" rx="1.17" ry="1.02" fill="#625e90" transform="rotate(102 486.2 291.4)"/>
<ellipse cx="492.3" cy="308.7" rx="1.63" ry="0.95" fill="#524e80" transform="rotate(94 492.3 308.7)"/>
<ellipse cx="477.8" cy="276.0" rx="1.61" ry="0.84" fill="#4a4674" transform="rotate(52 477.8 276.0)"/>
<ellipse cx="477.0" cy="308.5" rx="1.23" ry="0.82" fill="#4a4674" transform="rotate(178 477.0 308.5)"/>
<ellipse cx="484.1" cy="297.8" rx="1.31" ry="0.88" fill="#625e90" transform="rotate(43 484.1 297.8)"/>
<ellipse cx="503.8" cy="341.0" rx="1.42" ry="0.83" fill="#7e7aa4" transform="rotate(22 503.8 341.0)"/>
<ellipse cx="477.1" cy="340.4" rx="1.58" ry="0.94" fill="#5a5688" transform="rotate(56 477.1 340.4)"/>
<ellipse cx="447.6" cy="293.0" rx="1.57" ry="0.84" fill="#6e6a98" transform="rotate(57 447.6 293.0)"/>
<ellipse cx="504.6" cy="305.7" rx="1.59" ry="0.96" fill="#4a4674" transform="rotate(140 504.6 305.7)"/>
<ellipse cx="424.6" cy="278.9" rx="1.63" ry="1.06" fill="#5a5688" transform="rotate(79 424.6 278.9)"/>
<ellipse cx="479.3" cy="276.0" rx="1.74" ry="1.02" fill="#4a4674" transform="rotate(95 479.3 276.0)"/>
<ellipse cx="395.9" cy="286.2" rx="1.47" ry="1.08" fill="#625e90" transform="rotate(30 395.9 286.2)"/>
<ellipse cx="482.1" cy="303.8" rx="1.24" ry="1.06" fill="#6e6a98" transform="rotate(135 482.1 303.8)"/>
<ellipse cx="427.3" cy="286.9" rx="1.62" ry="0.89" fill="#6e6a98" transform="rotate(34 427.3 286.9)"/>
<ellipse cx="436.5" cy="295.4" rx="1.76" ry="0.76" fill="#4a4674" transform="rotate(122 436.5 295.4)"/>
<ellipse cx="425.5" cy="312.3" rx="1.33" ry="0.92" fill="#625e90" transform="rotate(55 425.5 312.3)"/>
<ellipse cx="480.3" cy="325.6" rx="1.56" ry="0.77" fill="#7e7aa4" transform="rotate(157 480.3 325.6)"/>
<ellipse cx="478.5" cy="301.3" rx="1.14" ry="0.80" fill="#5a5688" transform="rotate(160 478.5 301.3)"/>
<ellipse cx="415.5" cy="279.0" rx="1.15" ry="1.05" fill="#6e6a98" transform="rotate(36 415.5 279.0)"/>
<ellipse cx="467.3" cy="297.5" rx="1.43" ry="0.90" fill="#7e7aa4" transform="rotate(115 467.3 297.5)"/>
<ellipse cx="477.0" cy="306.6" rx="1.16" ry="0.96" fill="#4a4674" transform="rotate(148 477.0 306.6)"/>
<ellipse cx="431.7" cy="290.7" rx="1.62" ry="1.07" fill="#4a4674" transform="rotate(39 431.7 290.7)"/>
<ellipse cx="457.4" cy="334.7" rx="1.23" ry="1.11" fill="#5a5688" transform="rotate(99 457.4 334.7)"/>
<ellipse cx="495.9" cy="301.4" rx="1.75" ry="0.83" fill="#7e7aa4" transform="rotate(4 495.9 301.4)"/>
<ellipse cx="413.8" cy="285.4" rx="1.41" ry="0.76" fill="#4a4674" transform="rotate(25 413.8 285.4)"/>
<ellipse cx="387.7" cy="299.7" rx="1.60" ry="1.05" fill="#524e80" transform="rotate(43 387.7 299.7)"/>
<ellipse cx="461.5" cy="290.2" rx="1.69" ry="0.92" fill="#6e6a98" transform="rotate(92 461.5 290.2)"/>
<ellipse cx="505.4" cy="307.6" rx="1.16" ry="0.78" fill="#4a4674" transform="rotate(143 505.4 307.6)"/>
<ellipse cx="439.0" cy="298.2" rx="1.22" ry="0.84" fill="#6e6a98" transform="rotate(98 439.0 298.2)"/>
<ellipse cx="483.1" cy="292.4" rx="1.24" ry="0.81" fill="#7e7aa4" transform="rotate(74 483.1 292.4)"/>
<ellipse cx="441.7" cy="297.4" rx="1.54" ry="0.93" fill="#7e7aa4" transform="rotate(26 441.7 297.4)"/>
<ellipse cx="426.6" cy="312.4" rx="1.23" ry="0.94" fill="#7e7aa4" transform="rotate(79 426.6 312.4)"/>
<ellipse cx="411.8" cy="319.1" rx="1.20" ry="0.82" fill="#4a4674" transform="rotate(13 411.8 319.1)"/>
<ellipse cx="435.1" cy="278.9" rx="1.17" ry="1.04" fill="#4a4674" transform="rotate(60 435.1 278.9)"/>
<ellipse cx="473.6" cy="303.7" rx="1.21" ry="1.10" fill="#5a5688" transform="rotate(103 473.6 303.7)"/>
<ellipse cx="392.2" cy="333.8" rx="1.43" ry="0.95" fill="#4a4674" transform="rotate(128 392.2 333.8)"/>
<ellipse cx="471.9" cy="299.7" rx="1.76" ry="0.97" fill="#625e90" transform="rotate(72 471.9 299.7)"/>
<ellipse cx="422.8" cy="284.0" rx="1.73" ry="1.14" fill="#6e6a98" transform="rotate(111 422.8 284.0)"/>
<ellipse cx="442.3" cy="294.7" rx="1.47" ry="0.76" fill="#524e80" transform="rotate(99 442.3 294.7)"/>
<ellipse cx="467.2" cy="310.2" rx="1.33" ry="0.90" fill="#524e80" transform="rotate(110 467.2 310.2)"/>
<ellipse cx="389.1" cy="335.0" rx="1.15" ry="1.07" fill="#5a5688" transform="rotate(113 389.1 335.0)"/>
<ellipse cx="411.2" cy="278.2" rx="1.66" ry="0.81" fill="#5a5688" transform="rotate(41 411.2 278.2)"/>
<ellipse cx="456.1" cy="348.4" rx="1.64" ry="0.81" fill="#5a5688" transform="rotate(151 456.1 348.4)"/>
<ellipse cx="480.8" cy="339.5" rx="1.37" ry="0.79" fill="#625e90" transform="rotate(157 480.8 339.5)"/>
<ellipse cx="461.9" cy="348.6" rx="1.13" ry="0.77" fill="#5a5688" transform="rotate(22 461.9 348.6)"/>
<ellipse cx="428.1" cy="326.9" rx="1.22" ry="0.94" fill="#625e90" transform="rotate(19 428.1 326.9)"/>
<ellipse cx="436.0" cy="293.1" rx="1.26" ry="1.14" fill="#4a4674" transform="rotate(179 436.0 293.1)"/>
<ellipse cx="388.7" cy="307.3" rx="1.12" ry="1.00" fill="#7e7aa4" transform="rotate(119 388.7 307.3)"/>
<ellipse cx="505.3" cy="339.6" rx="1.74" ry="0.97" fill="#625e90" transform="rotate(26 505.3 339.6)"/>
<ellipse cx="449.7" cy="344.5" rx="1.59" ry="1.13" fill="#524e80" transform="rotate(152 449.7 344.5)"/>
<ellipse cx="478.3" cy="305.0" rx="1.77" ry="1.13" fill="#7e7aa4" transform="rotate(167 478.3 305.0)"/>
<ellipse cx="464.1" cy="273.9" rx="1.51" ry="0.88" fill="#7e7aa4" transform="rotate(116 464.1 273.9)"/>
<ellipse cx="419.9" cy="320.5" rx="1.21" ry="1.09" fill="#524e80" transform="rotate(88 419.9 320.5)"/>
<ellipse cx="490.9" cy="277.2" rx="1.40" ry="0.78" fill="#524e80" transform="rotate(75 490.9 277.2)"/>
<ellipse cx="460.5" cy="306.4" rx="1.75" ry="0.78" fill="#5a5688" transform="rotate(140 460.5 306.4)"/>
<ellipse cx="395.2" cy="293.4" rx="1.65" ry="0.83" fill="#7e7aa4" transform="rotate(91 395.2 293.4)"/>
<ellipse cx="512.1" cy="306.4" rx="1.50" ry="1.07" fill="#6e6a98" transform="rotate(137 512.1 306.4)"/>
<ellipse cx="467.6" cy="298.0" rx="1.58" ry="1.03" fill="#5a5688" transform="rotate(172 467.6 298.0)"/>
<ellipse cx="480.9" cy="284.7" rx="1.58" ry="0.77" fill="#7e7aa4" transform="rotate(178 480.9 284.7)"/>
<ellipse cx="479.4" cy="345.6" rx="1.35" ry="1.09" fill="#524e80" transform="rotate(154 479.4 345.6)"/>
<ellipse cx="489.2" cy="276.2" rx="1.43" ry="0.78" fill="#5a5688" transform="rotate(153 489.2 276.2)"/>
<ellipse cx="414.0" cy="319.7" rx="1.71" ry="0.78" fill="#7e7aa4" transform="rotate(52 414.0 319.7)"/>
<ellipse cx="410.2" cy="284.1" rx="1.67" ry="0.80" fill="#7e7aa4" transform="rotate(33 410.2 284.1)"/>
<ellipse cx="419.6" cy="286.2" rx="1.73" ry="0.84" fill="#625e90" transform="rotate(154 419.6 286.2)"/>
<ellipse cx="494.2" cy="307.7" rx="1.17" ry="1.12" fill="#4a4674" transform="rotate(145 494.2 307.7)"/>
<ellipse cx="419.5" cy="313.6" rx="1.18" ry="0.88" fill="#625e90" transform="rotate(160 419.5 313.6)"/>
<ellipse cx="499.7" cy="309.7" rx="1.75" ry="0.98" fill="#6e6a98" transform="rotate(18 499.7 309.7)"/>
<ellipse cx="482.5" cy="318.9" rx="1.21" ry="1.10" fill="#5a5688" transform="rotate(66 482.5 318.9)"/>
<ellipse cx="508.2" cy="303.2" rx="1.48" ry="0.88" fill="#625e90" transform="rotate(5 508.2 303.2)"/>
<ellipse cx="474.2" cy="310.5" rx="1.75" ry="0.83" fill="#4a4674" transform="rotate(172 474.2 310.5)"/>
<ellipse cx="471.0" cy="301.3" rx="1.52" ry="0.87" fill="#625e90" transform="rotate(174 471.0 301.3)"/>
<ellipse cx="475.9" cy="318.6" rx="1.39" ry="0.83" fill="#7e7aa4" transform="rotate(13 475.9 318.6)"/>
<ellipse cx="508.5" cy="297.6" rx="1.50" ry="0.75" fill="#4a4674" transform="rotate(75 508.5 297.6)"/>
<ellipse cx="460.9" cy="336.9" rx="1.11" ry="0.83" fill="#625e90" transform="rotate(32 460.9 336.9)"/>
<ellipse cx="508.2" cy="304.7" rx="1.59" ry="0.78" fill="#6e6a98" transform="rotate(149 508.2 304.7)"/>
<ellipse cx="478.0" cy="315.9" rx="1.35" ry="1.11" fill="#625e90" transform="rotate(46 478.0 315.9)"/>
<ellipse cx="407.4" cy="285.2" rx="1.18" ry="1.07" fill="#524e80" transform="rotate(22 407.4 285.2)"/>
<ellipse cx="481.9" cy="292.2" rx="1.68" ry="0.85" fill="#6e6a98" transform="rotate(17 481.9 292.2)"/>
<ellipse cx="460.9" cy="306.6" rx="1.43" ry="0.77" fill="#5a5688" transform="rotate(176 460.9 306.6)"/>
<ellipse cx="468.4" cy="306.1" rx="1.32" ry="0.95" fill="#625e90" transform="rotate(169 468.4 306.1)"/>
<ellipse cx="489.7" cy="334.3" rx="1.30" ry="0.77" fill="#7e7aa4" transform="rotate(9 489.7 334.3)"/>
<ellipse cx="480.1" cy="328.6" rx="1.46" ry="0.82" fill="#6e6a98" transform="rotate(121 480.1 328.6)"/>
<ellipse cx="445.6" cy="327.5" rx="1.56" ry="0.79" fill="#7e7aa4" transform="rotate(73 445.6 327.5)"/>
<ellipse cx="473.2" cy="349.9" rx="1.33" ry="0.86" fill="#625e90" transform="rotate(121 473.2 349.9)"/>
<ellipse cx="435.0" cy="325.9" rx="1.28" ry="0.79" fill="#7e7aa4" transform="rotate(166 435.0 325.9)"/>
<ellipse cx="488.4" cy="296.0" rx="1.75" ry="1.08" fill="#625e90" transform="rotate(85 488.4 296.0)"/>
<ellipse cx="390.2" cy="287.8" rx="1.79" ry="1.04" fill="#5a5688" transform="rotate(142 390.2 287.8)"/>
<ellipse cx="474.2" cy="301.8" rx="1.60" ry="0.86" fill="#6e6a98" transform="rotate(176 474.2 301.8)"/>
<ellipse cx="409.5" cy="283.7" rx="1.48" ry="0.92" fill="#625e90" transform="rotate(42 409.5 283.7)"/>
<ellipse cx="469.6" cy="293.6" rx="1.18" ry="1.07" fill="#625e90" transform="rotate(17 469.6 293.6)"/>
<ellipse cx="460.8" cy="348.0" rx="1.55" ry="1.13" fill="#625e90" transform="rotate(102 460.8 348.0)"/>
<ellipse cx="462.0" cy="276.9" rx="1.31" ry="0.80" fill="#6e6a98" transform="rotate(113 462.0 276.9)"/>
<ellipse cx="484.9" cy="313.3" rx="1.27" ry="1.12" fill="#6e6a98" transform="rotate(92 484.9 313.3)"/>
<ellipse cx="455.2" cy="296.1" rx="1.68" ry="0.76" fill="#524e80" transform="rotate(46 455.2 296.1)"/>
<ellipse cx="478.7" cy="290.0" rx="1.42" ry="0.89" fill="#524e80" transform="rotate(55 478.7 290.0)"/>
<ellipse cx="479.2" cy="293.2" rx="1.36" ry="0.76" fill="#524e80" transform="rotate(99 479.2 293.2)"/>
<ellipse cx="432.2" cy="276.1" rx="1.77" ry="0.96" fill="#524e80" transform="rotate(121 432.2 276.1)"/>
<ellipse cx="487.9" cy="291.2" rx="1.34" ry="0.79" fill="#4a4674" transform="rotate(143 487.9 291.2)"/>
<ellipse cx="410.3" cy="281.4" rx="1.24" ry="1.11" fill="#625e90" transform="rotate(8 410.3 281.4)"/>
<ellipse cx="499.3" cy="338.8" rx="1.71" ry="0.93" fill="#524e80" transform="rotate(76 499.3 338.8)"/>
<ellipse cx="431.2" cy="278.3" rx="1.57" ry="0.85" fill="#625e90" transform="rotate(7 431.2 278.3)"/>
<ellipse cx="498.7" cy="306.4" rx="1.23" ry="1.06" fill="#5a5688" transform="rotate(67 498.7 306.4)"/>
<ellipse cx="436.2" cy="287.9" rx="1.65" ry="1.04" fill="#524e80" transform="rotate(21 436.2 287.9)"/>
<ellipse cx="428.8" cy="325.8" rx="1.54" ry="0.83" fill="#4a4674" transform="rotate(4 428.8 325.8)"/>
<ellipse cx="458.8" cy="291.4" rx="1.17" ry="1.03" fill="#625e90" transform="rotate(153 458.8 291.4)"/>
<ellipse cx="416.3" cy="318.6" rx="1.50" ry="0.88" fill="#524e80" transform="rotate(7 416.3 318.6)"/>
<ellipse cx="451.7" cy="338.9" rx="1.16" ry="0.93" fill="#6e6a98" transform="rotate(43 451.7 338.9)"/>
<ellipse cx="460.6" cy="302.6" rx="1.13" ry="1.07" fill="#524e80" transform="rotate(146 460.6 302.6)"/>
<ellipse cx="445.9" cy="328.4" rx="1.43" ry="0.76" fill="#6e6a98" transform="rotate(119 445.9 328.4)"/>
<ellipse cx="415.6" cy="321.6" rx="1.64" ry="1.09" fill="#6e6a98" transform="rotate(99 415.6 321.6)"/>
<ellipse cx="482.1" cy="331.0" rx="1.76" ry="1.10" fill="#625e90" transform="rotate(56 482.1 331.0)"/>
<ellipse cx="410.1" cy="274.0" rx="1.39" ry="0.93" fill="#524e80" transform="rotate(165 410.1 274.0)"/>
<ellipse cx="451.7" cy="349.0" rx="1.22" ry="0.95" fill="#524e80" transform="rotate(89 451.7 349.0)"/>
<ellipse cx="423.4" cy="315.2" rx="1.25" ry="0.91" fill="#7e7aa4" transform="rotate(153 423.4 315.2)"/>
<ellipse cx="432.3" cy="304.5" rx="1.21" ry="1.01" fill="#6e6a98" transform="rotate(120 432.3 304.5)"/>
<ellipse cx="432.2" cy="293.4" rx="1.22" ry="1.03" fill="#524e80" transform="rotate(30 432.2 293.4)"/>
<ellipse cx="489.2" cy="278.1" rx="1.36" ry="1.10" fill="#6e6a98" transform="rotate(58 489.2 278.1)"/>
<ellipse cx="471.7" cy="311.8" rx="1.43" ry="0.83" fill="#4a4674" transform="rotate(31 471.7 311.8)"/>
<ellipse cx="469.6" cy="340.4" rx="1.30" ry="0.96" fill="#4a4674" transform="rotate(129 469.6 340.4)"/>
<ellipse cx="472.1" cy="315.5" rx="1.53" ry="1.06" fill="#625e90" transform="rotate(103 472.1 315.5)"/>
<ellipse cx="471.3" cy="330.7" rx="1.32" ry="0.80" fill="#6e6a98" transform="rotate(153 471.3 330.7)"/>
<ellipse cx="478.3" cy="294.1" rx="1.69" ry="0.82" fill="#7e7aa4" transform="rotate(149 478.3 294.1)"/>
<ellipse cx="477.2" cy="277.5" rx="1.59" ry="1.02" fill="#4a4674" transform="rotate(54 477.2 277.5)"/>
<ellipse cx="500.5" cy="340.4" rx="1.79" ry="0.93" fill="#524e80" transform="rotate(143 500.5 340.4)"/>
<ellipse cx="456.4" cy="274.0" rx="1.14" ry="0.86" fill="#4a4674" transform="rotate(55 456.4 274.0)"/>
<ellipse cx="485.6" cy="308.6" rx="1.24" ry="1.13" fill="#4a4674" transform="rotate(51 485.6 308.6)"/>
<ellipse cx="506.6" cy="312.8" rx="1.19" ry="0.87" fill="#5a5688" transform="rotate(8 506.6 312.8)"/>
<ellipse cx="481.5" cy="330.8" rx="1.71" ry="0.89" fill="#524e80" transform="rotate(38 481.5 330.8)"/>
<ellipse cx="406.6" cy="332.3" rx="1.40" ry="0.82" fill="#625e90" transform="rotate(175 406.6 332.3)"/>
<ellipse cx="485.7" cy="288.8" rx="1.61" ry="0.89" fill="#5a5688" transform="rotate(146 485.7 288.8)"/>
<ellipse cx="422.4" cy="319.2" rx="1.69" ry="0.88" fill="#524e80" transform="rotate(145 422.4 319.2)"/>
<ellipse cx="484.5" cy="296.0" rx="1.70" ry="1.06" fill="#6e6a98" transform="rotate(122 484.5 296.0)"/>
<ellipse cx="410.7" cy="281.3" rx="1.39" ry="0.95" fill="#625e90" transform="rotate(27 410.7 281.3)"/>
<ellipse cx="467.8" cy="306.9" rx="1.29" ry="0.79" fill="#625e90" transform="rotate(130 467.8 306.9)"/>
<ellipse cx="468.0" cy="310.9" rx="1.17" ry="1.14" fill="#6e6a98" transform="rotate(157 468.0 310.9)"/>
<ellipse cx="454.5" cy="290.3" rx="1.65" ry="0.87" fill="#625e90" transform="rotate(131 454.5 290.3)"/>
<ellipse cx="400.1" cy="335.6" rx="1.79" ry="0.81" fill="#524e80" transform="rotate(55 400.1 335.6)"/>
<ellipse cx="456.1" cy="329.9" rx="1.17" ry="1.09" fill="#5a5688" transform="rotate(157 456.1 329.9)"/>
<ellipse cx="491.5" cy="293.8" rx="1.23" ry="0.75" fill="#625e90" transform="rotate(165 491.5 293.8)"/>
<ellipse cx="401.3" cy="290.8" rx="1.33" ry="0.79" fill="#5a5688" transform="rotate(125 401.3 290.8)"/>
<ellipse cx="481.9" cy="305.2" rx="1.75" ry="0.91" fill="#5a5688" transform="rotate(56 481.9 305.2)"/>
<ellipse cx="464.6" cy="335.7" rx="1.62" ry="1.02" fill="#7e7aa4" transform="rotate(105 464.6 335.7)"/>
<ellipse cx="491.2" cy="310.2" rx="1.22" ry="0.91" fill="#6e6a98" transform="rotate(160 491.2 310.2)"/>
<ellipse cx="413.5" cy="277.4" rx="1.25" ry="1.13" fill="#7e7aa4" transform="rotate(162 413.5 277.4)"/>
<ellipse cx="499.8" cy="306.7" rx="1.11" ry="0.85" fill="#625e90" transform="rotate(88 499.8 306.7)"/>
<ellipse cx="492.7" cy="309.7" rx="1.19" ry="0.87" fill="#4a4674" transform="rotate(128 492.7 309.7)"/>
<ellipse cx="387.3" cy="296.4" rx="1.37" ry="1.04" fill="#625e90" transform="rotate(94 387.3 296.4)"/>
<ellipse cx="429.2" cy="283.4" rx="1.57" ry="0.86" fill="#524e80" transform="rotate(142 429.2 283.4)"/>
<ellipse cx="475.4" cy="320.9" rx="1.55" ry="1.05" fill="#5a5688" transform="rotate(161 475.4 320.9)"/>
<ellipse cx="435.0" cy="307.0" rx="1.26" ry="1.14" fill="#4a4674" transform="rotate(58 435.0 307.0)"/>
<ellipse cx="476.3" cy="302.7" rx="1.46" ry="0.97" fill="#7e7aa4" transform="rotate(150 476.3 302.7)"/>
<ellipse cx="421.6" cy="285.3" rx="1.46" ry="0.92" fill="#625e90" transform="rotate(169 421.6 285.3)"/>
<ellipse cx="501.2" cy="307.4" rx="1.63" ry="0.79" fill="#6e6a98" transform="rotate(144 501.2 307.4)"/>
<ellipse cx="434.1" cy="283.3" rx="1.43" ry="0.76" fill="#625e90" transform="rotate(27 434.1 283.3)"/>
<ellipse cx="467.0" cy="336.2" rx="1.49" ry="0.99" fill="#524e80" transform="rotate(13 467.0 336.2)"/>
<ellipse cx="490.0" cy="305.6" rx="1.28" ry="0.85" fill="#5a5688" transform="rotate(151 490.0 305.6)"/>
<ellipse cx="457.6" cy="348.6" rx="1.48" ry="1.01" fill="#5a5688" transform="rotate(55 457.6 348.6)"/>
<ellipse cx="474.0" cy="318.7" rx="1.60" ry="0.86" fill="#625e90" transform="rotate(89 474.0 318.7)"/>
<ellipse cx="459.0" cy="275.2" rx="1.42" ry="0.88" fill="#4a4674" transform="rotate(99 459.0 275.2)"/>
<ellipse cx="449.2" cy="291.2" rx="1.18" ry="0.95" fill="#4a4674" transform="rotate(91 449.2 291.2)"/>
<ellipse cx="505.6" cy="339.4" rx="1.66" ry="0.80" fill="#625e90" transform="rotate(99 505.6 339.4)"/>
<ellipse cx="473.2" cy="276.9" rx="1.23" ry="1.13" fill="#6e6a98" transform="rotate(70 473.2 276.9)"/>
<ellipse cx="411.5" cy="324.8" rx="1.49" ry="1.14" fill="#4a4674" transform="rotate(51 411.5 324.8)"/>
<ellipse cx="511.5" cy="309.4" rx="1.69" ry="0.85" fill="#4a4674" transform="rotate(134 511.5 309.4)"/>
<ellipse cx="457.0" cy="286.8" rx="1.35" ry="1.06" fill="#6e6a98" transform="rotate(161 457.0 286.8)"/>
<ellipse cx="487.2" cy="338.3" rx="1.69" ry="1.02" fill="#625e90" transform="rotate(31 487.2 338.3)"/>
<ellipse cx="456.1" cy="348.8" rx="1.67" ry="1.14" fill="#5a5688" transform="rotate(52 456.1 348.8)"/>
<ellipse cx="495.0" cy="302.4" rx="1.10" ry="1.13" fill="#524e80" transform="rotate(41 495.0 302.4)"/>
<ellipse cx="417.2" cy="319.2" rx="1.42" ry="0.92" fill="#5a5688" transform="rotate(120 417.2 319.2)"/>
<ellipse cx="476.2" cy="335.8" rx="1.59" ry="0.97" fill="#625e90" transform="rotate(146 476.2 335.8)"/>
<ellipse cx="499.2" cy="309.1" rx="1.34" ry="0.81" fill="#7e7aa4" transform="rotate(16 499.2 309.1)"/>
<ellipse cx="441.4" cy="288.5" rx="1.30" ry="1.02" fill="#7e7aa4" transform="rotate(9 441.4 288.5)"/>
<ellipse cx="433.5" cy="281.4" rx="1.33" ry="1.03" fill="#4a4674" transform="rotate(168 433.5 281.4)"/>
<ellipse cx="458.1" cy="344.3" rx="1.58" ry="0.82" fill="#4a4674" transform="rotate(20 458.1 344.3)"/>
<ellipse cx="472.7" cy="342.1" rx="1.19" ry="0.80" fill="#524e80" transform="rotate(89 472.7 342.1)"/>
<ellipse cx="489.0" cy="278.0" rx="1.41" ry="0.78" fill="#6e6a98" transform="rotate(6 489.0 278.0)"/>
<ellipse cx="480.2" cy="312.3" rx="1.16" ry="0.84" fill="#5a5688" transform="rotate(25 480.2 312.3)"/>
<ellipse cx="460.5" cy="291.9" rx="1.31" ry="0.95" fill="#4a4674" transform="rotate(71 460.5 291.9)"/>
<ellipse cx="485.8" cy="306.7" rx="1.26" ry="1.14" fill="#5a5688" transform="rotate(5 485.8 306.7)"/>
<ellipse cx="494.0" cy="339.5" rx="1.44" ry="0.95" fill="#5a5688" transform="rotate(67 494.0 339.5)"/>
<ellipse cx="435.1" cy="293.7" rx="1.53" ry="0.78" fill="#6e6a98" transform="rotate(98 435.1 293.7)"/>
<ellipse cx="483.2" cy="338.7" rx="1.31" ry="0.99" fill="#7e7aa4" transform="rotate(76 483.2 338.7)"/>
<ellipse cx="434.5" cy="296.3" rx="1.63" ry="1.00" fill="#7e7aa4" transform="rotate(60 434.5 296.3)"/>
<ellipse cx="423.3" cy="324.8" rx="1.20" ry="1.03" fill="#625e90" transform="rotate(126 423.3 324.8)"/>
<ellipse cx="475.4" cy="314.2" rx="1.52" ry="0.88" fill="#5a5688" transform="rotate(106 475.4 314.2)"/>
<ellipse cx="418.0" cy="313.2" rx="1.37" ry="0.89" fill="#625e90" transform="rotate(145 418.0 313.2)"/>
<ellipse cx="393.6" cy="283.0" rx="1.69" ry="0.75" fill="#4a4674" transform="rotate(150 393.6 283.0)"/>
<ellipse cx="406.5" cy="283.9" rx="1.31" ry="1.03" fill="#5a5688" transform="rotate(104 406.5 283.9)"/>
<ellipse cx="494.0" cy="308.9" rx="1.63" ry="0.94" fill="#5a5688" transform="rotate(151 494.0 308.9)"/>
<ellipse cx="415.7" cy="273.7" rx="1.71" ry="1.08" fill="#625e90" transform="rotate(18 415.7 273.7)"/>
<ellipse cx="510.5" cy="298.8" rx="1.68" ry="1.12" fill="#4a4674" transform="rotate(56 510.5 298.8)"/>
<ellipse cx="436.2" cy="284.8" rx="1.57" ry="0.93" fill="#7e7aa4" transform="rotate(145 436.2 284.8)"/>
<ellipse cx="455.1" cy="284.0" rx="1.70" ry="1.11" fill="#4a4674" transform="rotate(44 455.1 284.0)"/>
<ellipse cx="425.4" cy="274.1" rx="1.33" ry="1.05" fill="#4a4674" transform="rotate(166 425.4 274.1)"/>
<ellipse cx="407.3" cy="279.2" rx="1.63" ry="0.79" fill="#5a5688" transform="rotate(120 407.3 279.2)"/>
<ellipse cx="436.8" cy="289.0" rx="1.51" ry="0.92" fill="#6e6a98" transform="rotate(62 436.8 289.0)"/>
<ellipse cx="435.3" cy="296.1" rx="1.30" ry="1.05" fill="#524e80" transform="rotate(39 435.3 296.1)"/>
<ellipse cx="442.7" cy="288.0" rx="1.71" ry="1.07" fill="#7e7aa4" transform="rotate(55 442.7 288.0)"/>
<ellipse cx="458.1" cy="339.8" rx="1.28" ry="0.85" fill="#7e7aa4" transform="rotate(19 458.1 339.8)"/>
<ellipse cx="474.9" cy="322.8" rx="1.46" ry="0.83" fill="#6e6a98" transform="rotate(1 474.9 322.8)"/>
<ellipse cx="491.1" cy="295.7" rx="1.71" ry="1.06" fill="#7e7aa4" transform="rotate(106 491.1 295.7)"/>
<path d="M418.3,317.8 L422.9,320 L418.3,322.2 Z" fill="#e8262c" transform="rotate(0 420.5 320)"/>
<path d="M438.8,325.3 L443.4,327.5 L438.8,329.7 Z" fill="#e8262c" transform="rotate(0 441 327.5)"/>
<path d="M460.05,341.05 L464.65,343.25 L460.05,345.45 Z" fill="#e8262c" transform="rotate(-90 462.25 343.25)"/>
<path d="M471.8,337.3 L476.4,339.5 L471.8,341.7 Z" fill="#e8262c" transform="rotate(0 474 339.5)"/>
<path d="M477.55,309.3 L482.15,311.5 L477.55,313.7 Z" fill="#e8262c" transform="rotate(0 479.75 311.5)"/>
<path d="M490.05,308.55 L494.65,310.75 L490.05,312.95 Z" fill="#e8262c" transform="rotate(-150 492.25 310.75)"/>
<rect x="389.75" y="345.6" width="17.5" height="1.9" fill="#e02530"/>
</g></g>
<rect x="387.0" y="273.6" width="125.40" height="76.80" fill="none" stroke="#2a2a2a" stroke-width="1.3"/>
<rect x="0.5" y="0.5" width="519" height="357" fill="none" stroke="#000" stroke-width="1.1"/>
</svg>
</body></html>
